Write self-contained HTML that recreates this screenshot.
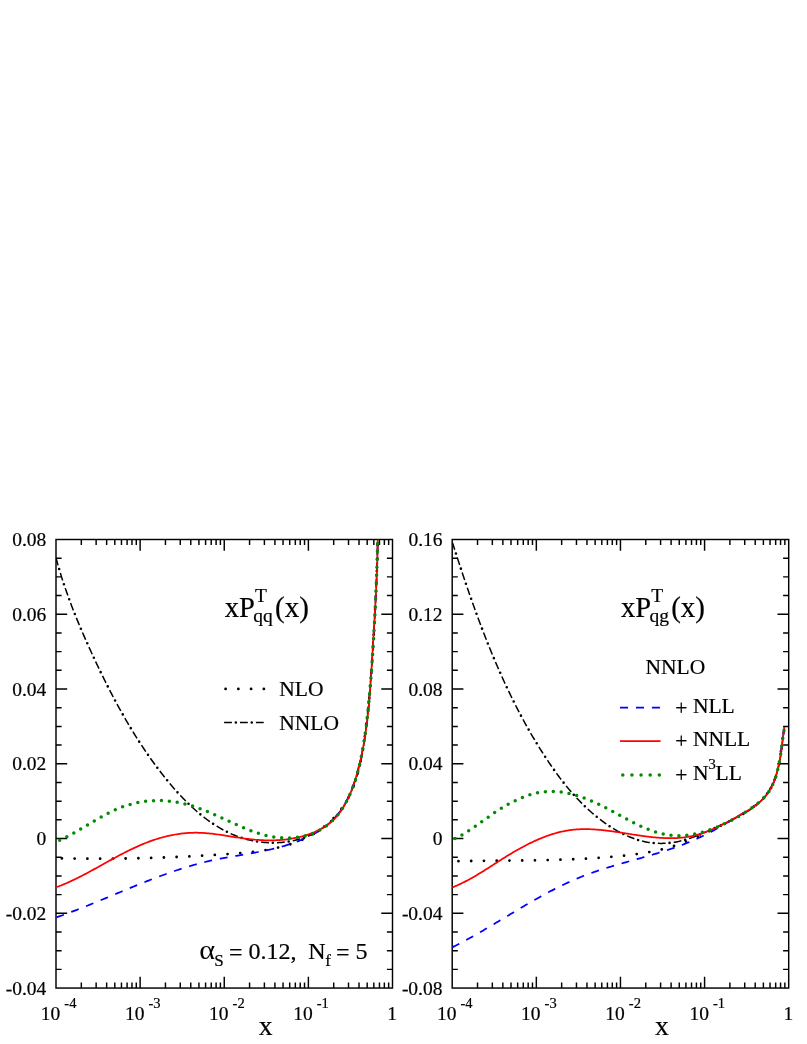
<!DOCTYPE html>
<html><head><meta charset="utf-8"><title>Timelike splitting functions</title>
<style>
html,body{margin:0;padding:0;background:#fff;}
body{width:807px;height:1044px;overflow:hidden;font-family:"Liberation Serif",serif;}
svg{display:block;will-change:transform;opacity:0.999;}
svg text{font-family:"Liberation Serif",serif;fill:#000;stroke:#000;stroke-width:0.2px;}
</style></head>
<body>
<svg width="807" height="1044" viewBox="0 0 807 1044">
<rect width="807" height="1044" fill="#fff"/>
<rect x="56.0" y="539.5" width="336.5" height="448.54999999999995" fill="none" stroke="#000" stroke-width="1.45"/>
<path d="M81.32,988.05 v-5.6 M81.32,539.5 v5.6 M96.14,988.05 v-5.6 M96.14,539.5 v5.6 M106.65,988.05 v-5.6 M106.65,539.5 v5.6 M114.80,988.05 v-5.6 M114.80,539.5 v5.6 M121.46,988.05 v-5.6 M121.46,539.5 v5.6 M127.09,988.05 v-5.6 M127.09,539.5 v5.6 M131.97,988.05 v-5.6 M131.97,539.5 v5.6 M136.28,988.05 v-5.6 M136.28,539.5 v5.6 M140.12,988.05 v-11.2 M140.12,539.5 v11.2 M165.45,988.05 v-5.6 M165.45,539.5 v5.6 M180.26,988.05 v-5.6 M180.26,539.5 v5.6 M190.77,988.05 v-5.6 M190.77,539.5 v5.6 M198.93,988.05 v-5.6 M198.93,539.5 v5.6 M205.59,988.05 v-5.6 M205.59,539.5 v5.6 M211.22,988.05 v-5.6 M211.22,539.5 v5.6 M216.10,988.05 v-5.6 M216.10,539.5 v5.6 M220.40,988.05 v-5.6 M220.40,539.5 v5.6 M224.25,988.05 v-11.2 M224.25,539.5 v11.2 M249.57,988.05 v-5.6 M249.57,539.5 v5.6 M264.39,988.05 v-5.6 M264.39,539.5 v5.6 M274.90,988.05 v-5.6 M274.90,539.5 v5.6 M283.05,988.05 v-5.6 M283.05,539.5 v5.6 M289.71,988.05 v-5.6 M289.71,539.5 v5.6 M295.34,988.05 v-5.6 M295.34,539.5 v5.6 M300.22,988.05 v-5.6 M300.22,539.5 v5.6 M304.53,988.05 v-5.6 M304.53,539.5 v5.6 M308.38,988.05 v-11.2 M308.38,539.5 v11.2 M333.70,988.05 v-5.6 M333.70,539.5 v5.6 M348.51,988.05 v-5.6 M348.51,539.5 v5.6 M359.02,988.05 v-5.6 M359.02,539.5 v5.6 M367.18,988.05 v-5.6 M367.18,539.5 v5.6 M373.84,988.05 v-5.6 M373.84,539.5 v5.6 M379.47,988.05 v-5.6 M379.47,539.5 v5.6 M384.35,988.05 v-5.6 M384.35,539.5 v5.6 M388.65,988.05 v-5.6 M388.65,539.5 v5.6 M56.0,558.19 h5.6 M392.5,558.19 h-5.6 M56.0,576.88 h5.6 M392.5,576.88 h-5.6 M56.0,595.57 h5.6 M392.5,595.57 h-5.6 M56.0,614.26 h11.2 M392.5,614.26 h-11.2 M56.0,632.95 h5.6 M392.5,632.95 h-5.6 M56.0,651.64 h5.6 M392.5,651.64 h-5.6 M56.0,670.33 h5.6 M392.5,670.33 h-5.6 M56.0,689.02 h11.2 M392.5,689.02 h-11.2 M56.0,707.71 h5.6 M392.5,707.71 h-5.6 M56.0,726.40 h5.6 M392.5,726.40 h-5.6 M56.0,745.09 h5.6 M392.5,745.09 h-5.6 M56.0,763.77 h11.2 M392.5,763.77 h-11.2 M56.0,782.46 h5.6 M392.5,782.46 h-5.6 M56.0,801.15 h5.6 M392.5,801.15 h-5.6 M56.0,819.84 h5.6 M392.5,819.84 h-5.6 M56.0,838.53 h11.2 M392.5,838.53 h-11.2 M56.0,857.22 h5.6 M392.5,857.22 h-5.6 M56.0,875.91 h5.6 M392.5,875.91 h-5.6 M56.0,894.60 h5.6 M392.5,894.60 h-5.6 M56.0,913.29 h11.2 M392.5,913.29 h-11.2 M56.0,931.98 h5.6 M392.5,931.98 h-5.6 M56.0,950.67 h5.6 M392.5,950.67 h-5.6 M56.0,969.36 h5.6 M392.5,969.36 h-5.6" stroke="#000" stroke-width="1.45" fill="none"/>
<text x="46.3" y="546.1" text-anchor="end" font-size="19.5">0.08</text>
<text x="46.3" y="620.9" text-anchor="end" font-size="19.5">0.06</text>
<text x="46.3" y="695.6" text-anchor="end" font-size="19.5">0.04</text>
<text x="46.3" y="770.4" text-anchor="end" font-size="19.5">0.02</text>
<text x="46.3" y="845.1" text-anchor="end" font-size="19.5">0</text>
<text x="46.3" y="919.9" text-anchor="end" font-size="19.5">-0.02</text>
<text x="46.3" y="994.6" text-anchor="end" font-size="19.5">-0.04</text>
<text x="40.8" y="1020.2" font-size="19.5">10</text>
<text x="64.3" y="1008.0" font-size="14.5">-4</text>
<text x="124.9" y="1020.2" font-size="19.5">10</text>
<text x="148.4" y="1008.0" font-size="14.5">-3</text>
<text x="209.1" y="1020.2" font-size="19.5">10</text>
<text x="232.6" y="1008.0" font-size="14.5">-2</text>
<text x="293.2" y="1020.2" font-size="19.5">10</text>
<text x="316.7" y="1008.0" font-size="14.5">-1</text>
<text x="392.2" y="1020.2" text-anchor="middle" font-size="19.5">1</text>
<text x="265.6" y="1034.6" text-anchor="middle" font-size="27.5">x</text>
<clipPath id="cl"><rect x="56.0" y="539.5" width="336.5" height="448.54999999999995"/></clipPath>
<rect x="452.2" y="539.5" width="336.50000000000006" height="448.54999999999995" fill="none" stroke="#000" stroke-width="1.45"/>
<path d="M477.52,988.05 v-5.6 M477.52,539.5 v5.6 M492.34,988.05 v-5.6 M492.34,539.5 v5.6 M502.85,988.05 v-5.6 M502.85,539.5 v5.6 M511.00,988.05 v-5.6 M511.00,539.5 v5.6 M517.66,988.05 v-5.6 M517.66,539.5 v5.6 M523.29,988.05 v-5.6 M523.29,539.5 v5.6 M528.17,988.05 v-5.6 M528.17,539.5 v5.6 M532.48,988.05 v-5.6 M532.48,539.5 v5.6 M536.33,988.05 v-11.2 M536.33,539.5 v11.2 M561.65,988.05 v-5.6 M561.65,539.5 v5.6 M576.46,988.05 v-5.6 M576.46,539.5 v5.6 M586.97,988.05 v-5.6 M586.97,539.5 v5.6 M595.13,988.05 v-5.6 M595.13,539.5 v5.6 M601.79,988.05 v-5.6 M601.79,539.5 v5.6 M607.42,988.05 v-5.6 M607.42,539.5 v5.6 M612.30,988.05 v-5.6 M612.30,539.5 v5.6 M616.60,988.05 v-5.6 M616.60,539.5 v5.6 M620.45,988.05 v-11.2 M620.45,539.5 v11.2 M645.77,988.05 v-5.6 M645.77,539.5 v5.6 M660.59,988.05 v-5.6 M660.59,539.5 v5.6 M671.10,988.05 v-5.6 M671.10,539.5 v5.6 M679.25,988.05 v-5.6 M679.25,539.5 v5.6 M685.91,988.05 v-5.6 M685.91,539.5 v5.6 M691.54,988.05 v-5.6 M691.54,539.5 v5.6 M696.42,988.05 v-5.6 M696.42,539.5 v5.6 M700.73,988.05 v-5.6 M700.73,539.5 v5.6 M704.58,988.05 v-11.2 M704.58,539.5 v11.2 M729.90,988.05 v-5.6 M729.90,539.5 v5.6 M744.71,988.05 v-5.6 M744.71,539.5 v5.6 M755.22,988.05 v-5.6 M755.22,539.5 v5.6 M763.38,988.05 v-5.6 M763.38,539.5 v5.6 M770.04,988.05 v-5.6 M770.04,539.5 v5.6 M775.67,988.05 v-5.6 M775.67,539.5 v5.6 M780.55,988.05 v-5.6 M780.55,539.5 v5.6 M784.85,988.05 v-5.6 M784.85,539.5 v5.6 M452.2,558.19 h5.6 M788.7,558.19 h-5.6 M452.2,576.88 h5.6 M788.7,576.88 h-5.6 M452.2,595.57 h5.6 M788.7,595.57 h-5.6 M452.2,614.26 h11.2 M788.7,614.26 h-11.2 M452.2,632.95 h5.6 M788.7,632.95 h-5.6 M452.2,651.64 h5.6 M788.7,651.64 h-5.6 M452.2,670.33 h5.6 M788.7,670.33 h-5.6 M452.2,689.02 h11.2 M788.7,689.02 h-11.2 M452.2,707.71 h5.6 M788.7,707.71 h-5.6 M452.2,726.40 h5.6 M788.7,726.40 h-5.6 M452.2,745.09 h5.6 M788.7,745.09 h-5.6 M452.2,763.77 h11.2 M788.7,763.77 h-11.2 M452.2,782.46 h5.6 M788.7,782.46 h-5.6 M452.2,801.15 h5.6 M788.7,801.15 h-5.6 M452.2,819.84 h5.6 M788.7,819.84 h-5.6 M452.2,838.53 h11.2 M788.7,838.53 h-11.2 M452.2,857.22 h5.6 M788.7,857.22 h-5.6 M452.2,875.91 h5.6 M788.7,875.91 h-5.6 M452.2,894.60 h5.6 M788.7,894.60 h-5.6 M452.2,913.29 h11.2 M788.7,913.29 h-11.2 M452.2,931.98 h5.6 M788.7,931.98 h-5.6 M452.2,950.67 h5.6 M788.7,950.67 h-5.6 M452.2,969.36 h5.6 M788.7,969.36 h-5.6" stroke="#000" stroke-width="1.45" fill="none"/>
<text x="442.5" y="546.1" text-anchor="end" font-size="19.5">0.16</text>
<text x="442.5" y="620.9" text-anchor="end" font-size="19.5">0.12</text>
<text x="442.5" y="695.6" text-anchor="end" font-size="19.5">0.08</text>
<text x="442.5" y="770.4" text-anchor="end" font-size="19.5">0.04</text>
<text x="442.5" y="845.1" text-anchor="end" font-size="19.5">0</text>
<text x="442.5" y="919.9" text-anchor="end" font-size="19.5">-0.04</text>
<text x="442.5" y="994.6" text-anchor="end" font-size="19.5">-0.08</text>
<text x="437.0" y="1020.2" font-size="19.5">10</text>
<text x="460.5" y="1008.0" font-size="14.5">-4</text>
<text x="521.1" y="1020.2" font-size="19.5">10</text>
<text x="544.6" y="1008.0" font-size="14.5">-3</text>
<text x="605.2" y="1020.2" font-size="19.5">10</text>
<text x="628.8" y="1008.0" font-size="14.5">-2</text>
<text x="689.4" y="1020.2" font-size="19.5">10</text>
<text x="712.9" y="1008.0" font-size="14.5">-1</text>
<text x="788.4" y="1020.2" text-anchor="middle" font-size="19.5">1</text>
<text x="661.8" y="1034.6" text-anchor="middle" font-size="27.5">x</text>
<clipPath id="cr"><rect x="452.2" y="539.5" width="336.50000000000006" height="448.54999999999995"/></clipPath>
<g clip-path="url(#cl)" fill="none">
<path d="M55.80,858.31 L57.32,858.34 L58.83,858.36 L60.34,858.39 L61.85,858.41 L63.36,858.44 L64.87,858.46 L66.37,858.48 L67.87,858.51 L69.37,858.53 L70.87,858.55 L72.37,858.56 L73.86,858.58 L75.36,858.60 L76.85,858.61 L78.34,858.62 L79.82,858.64 L81.31,858.65 L82.79,858.66 L84.28,858.67 L85.76,858.68 L87.24,858.69 L88.71,858.69 L90.19,858.70 L91.66,858.70 L93.14,858.70 L94.61,858.71 L96.08,858.71 L97.55,858.71 L99.02,858.71 L100.48,858.70 L101.95,858.70 L103.41,858.70 L104.88,858.69 L106.34,858.68 L107.80,858.68 L109.26,858.67 L110.72,858.66 L112.18,858.65 L113.63,858.63 L115.09,858.62 L116.54,858.61 L118.00,858.59 L119.45,858.57 L120.91,858.56 L122.36,858.54 L123.81,858.52 L125.26,858.50 L126.71,858.47 L128.16,858.45 L129.61,858.43 L131.05,858.40 L132.50,858.37 L133.95,858.35 L135.40,858.32 L136.84,858.29 L138.29,858.25 L139.73,858.22 L141.18,858.19 L142.62,858.15 L144.07,858.12 L145.51,858.08 L146.96,858.04 L148.40,858.00 L149.84,857.96 L151.29,857.92 L152.73,857.88 L154.17,857.83 L155.62,857.79 L157.06,857.74 L158.51,857.69 L159.95,857.65 L161.39,857.60 L162.84,857.54 L164.28,857.49 L165.73,857.44 L167.17,857.38 L168.62,857.33 L170.06,857.27 L171.51,857.21 L172.95,857.15 L174.40,857.09 L175.85,857.03 L177.30,856.97 L178.74,856.90 L180.19,856.84 L181.64,856.77 L183.09,856.70 L184.54,856.63 L186.00,856.56 L187.45,856.49 L188.90,856.42 L190.35,856.35 L191.81,856.27 L193.26,856.19 L194.72,856.12 L196.18,856.04 L197.64,855.96 L199.10,855.88 L200.56,855.79 L202.02,855.71 L203.48,855.62 L204.94,855.54 L206.41,855.45 L207.87,855.36 L209.34,855.27 L210.81,855.18 L212.28,855.09 L213.75,854.99 L215.22,854.90 L216.70,854.80 L218.17,854.71 L219.65,854.61 L221.13,854.51 L222.61,854.41 L224.09,854.30 L225.57,854.20 L227.05,854.09 L228.54,853.99 L230.03,853.88 L231.52,853.77 L233.01,853.66 L234.50,853.54 L235.99,853.43 L237.48,853.30 L238.97,853.18 L240.47,853.05 L241.96,852.92 L243.45,852.79 L244.94,852.64 L246.44,852.50 L247.93,852.35 L249.42,852.19 L250.91,852.03 L252.39,851.86 L253.88,851.69 L255.36,851.50 L256.85,851.32 L258.33,851.12 L259.81,850.92 L261.28,850.70 L262.76,850.48 L264.23,850.26 L265.69,850.02 L267.16,849.77 L268.62,849.52 L270.08,849.25 L271.53,848.98 L272.98,848.69 L274.43,848.39 L275.87,848.09 L277.31,847.77 L278.75,847.44 L280.17,847.09 L281.60,846.74 L283.02,846.37 L284.43,845.99 L285.84,845.60 L287.24,845.19 L288.64,844.77 L290.03,844.34 L291.41,843.89 L292.79,843.43 L294.16,842.95 L295.53,842.46 L296.89,841.95 L298.24,841.43 L299.58,840.89 L300.92,840.33 L302.25,839.76 L303.57,839.17 L304.88,838.56 L306.19,837.94 L307.48,837.29 L308.77,836.63 L310.05,835.95 L311.32,835.26 L312.58,834.54 L313.83,833.80 L315.08,833.05 L316.31,832.28 L317.53,831.49 L318.74,830.68 L319.93,829.85 L321.12,829.01 L322.29,828.14 L323.45,827.26 L324.59,826.37 L325.73,825.46 L326.84,824.53 L327.94,823.58 L329.03,822.62 L330.10,821.64 L331.16,820.65 L332.19,819.64 L333.22,818.62 L334.22,817.58 L335.20,816.53 L336.17,815.46 L337.12,814.38 L338.05,813.28 L338.96,812.17 L339.84,811.04 L340.71,809.90 L341.57,808.75 L342.40,807.59 L343.21,806.41 L344.00,805.22 L344.78,804.02 L345.53,802.80 L346.27,801.57 L346.98,800.33 L347.68,799.08 L348.36,797.82 L349.02,796.54 L349.66,795.26 L350.28,793.96 L350.88,792.65 L351.47,791.34 L352.03,790.01 L352.58,788.67 L353.12,787.33 L353.63,785.97 L354.13,784.61 L354.62,783.23 L355.09,781.86 L355.54,780.47 L355.99,779.07 L356.41,777.67 L356.83,776.26 L357.23,774.85 L357.62,773.43 L358.00,772.01 L358.36,770.58 L358.72,769.14 L359.07,767.70 L359.40,766.26 L359.73,764.81 L360.05,763.36 L360.35,761.91 L360.65,760.45 L360.95,758.99 L361.23,757.53 L361.51,756.07 L361.78,754.61 L362.05,753.14 L362.31,751.68 L362.57,750.21 L362.82,748.74 L363.07,747.28 L363.31,745.81 L363.55,744.35 L363.79,742.88 L364.02,741.42 L364.24,739.96 L364.47,738.49 L364.69,737.03 L364.90,735.57 L365.12,734.10 L365.32,732.64 L365.53,731.18 L365.73,729.71 L365.93,728.25 L366.12,726.79 L366.31,725.33 L366.50,723.87 L366.69,722.40 L366.87,720.94 L367.05,719.48 L367.22,718.02 L367.39,716.56 L367.56,715.10 L367.73,713.64 L367.89,712.18 L368.05,710.72 L368.21,709.26 L368.36,707.80 L368.51,706.34 L368.66,704.88 L368.81,703.42 L368.95,701.96 L369.09,700.50 L369.23,699.04 L369.37,697.58 L369.50,696.12 L369.63,694.66 L369.76,693.20 L369.89,691.74 L370.02,690.28 L370.14,688.82 L370.26,687.37 L370.38,685.91 L370.50,684.45 L370.61,682.99 L370.73,681.53 L370.84,680.07 L370.95,678.61 L371.06,677.16 L371.16,675.70 L371.27,674.24 L371.37,672.78 L371.47,671.32 L371.57,669.87 L371.67,668.41 L371.77,666.95 L371.87,665.49 L371.96,664.03 L372.06,662.58 L372.15,661.12 L372.24,659.66 L372.34,658.20 L372.43,656.74 L372.51,655.29 L372.60,653.83 L372.69,652.37 L372.78,650.91 L372.87,649.45 L372.95,647.99 L373.04,646.54 L373.12,645.08 L373.21,643.62 L373.29,642.16 L373.37,640.70 L373.46,639.24 L373.54,637.78 L373.62,636.33 L373.70,634.87 L373.79,633.41 L373.87,631.95 L373.95,630.49 L374.03,629.03 L374.11,627.57 L374.19,626.11 L374.27,624.65 L374.35,623.19 L374.43,621.73 L374.51,620.27 L374.59,618.81 L374.67,617.35 L374.75,615.89 L374.82,614.43 L374.90,612.97 L374.98,611.51 L375.05,610.05 L375.13,608.59 L375.20,607.13 L375.28,605.67 L375.35,604.21 L375.42,602.74 L375.50,601.28 L375.57,599.82 L375.64,598.36 L375.71,596.90 L375.78,595.43 L375.85,593.97 L375.92,592.51 L375.99,591.05 L376.05,589.58 L376.12,588.12 L376.18,586.65 L376.25,585.19 L376.31,583.73 L376.38,582.26 L376.44,580.80 L376.50,579.33 L376.56,577.87 L376.62,576.40 L376.68,574.94 L376.74,573.47 L376.79,572.00 L376.85,570.54 L376.90,569.07 L376.96,567.60 L377.01,566.14 L377.06,564.67 L377.12,563.20 L377.17,561.73 L377.21,560.26 L377.26,558.80 L377.31,557.33 L377.36,555.86 L377.40,554.39 L377.44,552.92 L377.49,551.45 L377.53,549.98 L377.57,548.51 L377.61,547.03 L377.64,545.56 L377.68,544.09 L377.72,542.62 L377.75,541.15 L377.78,539.67 L377.81,538.20 L377.84,536.73 L377.87,535.25 L377.90,533.78 L377.93,532.30 L377.95,530.83 L377.98,529.35 L378.00,527.88" stroke="#000" stroke-width="2.8" stroke-linecap="round" stroke-dasharray="0 12.75" stroke-dashoffset="-6.1"/>
<path d="M55.96,557.71 L56.44,559.51 L56.93,561.30 L57.43,563.10 L57.93,564.89 L58.45,566.68 L58.97,568.47 L59.50,570.26 L60.04,572.05 L60.58,573.83 L61.14,575.61 L61.70,577.40 L62.26,579.18 L62.84,580.95 L63.42,582.73 L64.01,584.51 L64.60,586.28 L65.21,588.05 L65.82,589.82 L66.43,591.59 L67.05,593.35 L67.68,595.12 L68.32,596.88 L68.96,598.64 L69.61,600.40 L70.26,602.16 L70.92,603.91 L71.58,605.66 L72.25,607.42 L72.93,609.17 L73.61,610.91 L74.29,612.66 L74.99,614.40 L75.68,616.14 L76.38,617.88 L77.09,619.62 L77.80,621.36 L78.52,623.09 L79.24,624.82 L79.96,626.55 L80.69,628.28 L81.42,630.01 L82.16,631.73 L82.90,633.45 L83.65,635.17 L84.40,636.89 L85.15,638.60 L85.90,640.32 L86.66,642.03 L87.43,643.74 L88.19,645.44 L88.96,647.15 L89.74,648.85 L90.51,650.55 L91.29,652.25 L92.07,653.94 L92.85,655.64 L93.64,657.33 L94.43,659.02 L95.22,660.70 L96.01,662.39 L96.81,664.07 L97.60,665.75 L98.41,667.43 L99.21,669.10 L100.01,670.77 L100.82,672.44 L101.63,674.11 L102.45,675.78 L103.27,677.44 L104.09,679.10 L104.91,680.76 L105.74,682.41 L106.57,684.07 L107.40,685.72 L108.24,687.36 L109.08,689.01 L109.92,690.65 L110.77,692.29 L111.62,693.93 L112.48,695.57 L113.34,697.20 L114.20,698.83 L115.07,700.46 L115.94,702.08 L116.81,703.70 L117.69,705.32 L118.58,706.94 L119.47,708.55 L120.36,710.16 L121.26,711.77 L122.16,713.38 L123.06,714.98 L123.98,716.58 L124.89,718.18 L125.81,719.77 L126.74,721.37 L127.67,722.96 L128.61,724.54 L129.55,726.13 L130.50,727.71 L131.45,729.28 L132.41,730.86 L133.37,732.43 L134.34,734.00 L135.31,735.57 L136.29,737.13 L137.28,738.69 L138.27,740.25 L139.27,741.80 L140.28,743.35 L141.29,744.90 L142.31,746.45 L143.34,747.99 L144.37,749.53 L145.41,751.07 L146.45,752.60 L147.51,754.13 L148.57,755.66 L149.64,757.18 L150.71,758.70 L151.80,760.22 L152.89,761.73 L153.99,763.25 L155.09,764.75 L156.21,766.26 L157.33,767.76 L158.46,769.26 L159.60,770.75 L160.75,772.25 L161.91,773.74 L163.08,775.22 L164.25,776.70 L165.43,778.18 L166.63,779.66 L167.83,781.13 L169.04,782.59 L170.26,784.05 L171.49,785.51 L172.73,786.95 L173.98,788.39 L175.24,789.82 L176.51,791.25 L177.78,792.66 L179.07,794.07 L180.37,795.46 L181.67,796.85 L182.99,798.23 L184.31,799.59 L185.65,800.94 L186.99,802.28 L188.35,803.61 L189.72,804.93 L191.09,806.23 L192.48,807.51 L193.88,808.79 L195.28,810.04 L196.70,811.28 L198.13,812.51 L199.57,813.72 L201.02,814.91 L202.48,816.08 L203.95,817.23 L205.43,818.37 L206.92,819.49 L208.42,820.58 L209.94,821.66 L211.46,822.72 L213.00,823.75 L214.54,824.77 L216.10,825.76 L217.67,826.72 L219.25,827.67 L220.84,828.59 L222.45,829.49 L224.06,830.36 L225.69,831.21 L227.33,832.03 L228.98,832.82 L230.64,833.59 L232.31,834.33 L234.00,835.04 L235.70,835.72 L237.41,836.38 L239.13,837.01 L240.86,837.60 L242.61,838.17 L244.36,838.70 L246.13,839.21 L247.92,839.68 L249.71,840.12 L251.52,840.52 L253.34,840.90 L255.16,841.24 L257.00,841.54 L258.85,841.82 L260.70,842.06 L262.56,842.26 L264.43,842.44 L266.30,842.57 L268.18,842.68 L270.05,842.75 L271.93,842.78 L273.81,842.78 L275.69,842.75 L277.57,842.68 L279.44,842.58 L281.32,842.44 L283.19,842.26 L285.05,842.06 L286.91,841.81 L288.76,841.53 L290.60,841.21 L292.43,840.86 L294.26,840.47 L296.07,840.04 L297.87,839.58 L299.66,839.08 L301.44,838.55 L303.20,837.97 L304.94,837.37 L306.67,836.72 L308.38,836.03 L310.07,835.31 L311.74,834.55 L313.39,833.76 L315.02,832.92 L316.63,832.05 L318.21,831.14 L319.77,830.19 L321.31,829.20 L322.81,828.17 L324.29,827.11 L325.75,826.00 L327.17,824.86 L328.56,823.68 L329.93,822.46 L331.26,821.20 L332.57,819.91 L333.84,818.59 L335.09,817.24 L336.30,815.85 L337.49,814.43 L338.65,812.99 L339.77,811.52 L340.87,810.02 L341.94,808.50 L342.97,806.95 L343.98,805.38 L344.96,803.79 L345.90,802.17 L346.82,800.54 L347.71,798.89 L348.56,797.23 L349.39,795.55 L350.20,793.85 L350.97,792.14 L351.72,790.42 L352.44,788.69 L353.14,786.94 L353.81,785.19 L354.46,783.44 L355.09,781.67 L355.69,779.90 L356.27,778.13 L356.83,776.35 L357.37,774.57 L357.89,772.79 L358.39,771.00 L358.87,769.21 L359.33,767.41 L359.78,765.61 L360.20,763.81 L360.61,762.00 L361.01,760.19 L361.39,758.38 L361.75,756.57 L362.10,754.75 L362.44,752.93 L362.77,751.10 L363.08,749.28 L363.38,747.45 L363.67,745.61 L363.94,743.78 L364.21,741.94 L364.47,740.10 L364.72,738.26 L364.96,736.41 L365.20,734.57 L365.43,732.72 L365.65,730.87 L365.86,729.02 L366.07,727.16 L366.28,725.31 L366.48,723.45 L366.68,721.59 L366.88,719.73 L367.07,717.87 L367.26,716.00 L367.45,714.14 L367.64,712.27 L367.83,710.41 L368.02,708.54 L368.20,706.67 L368.38,704.80 L368.57,702.93 L368.74,701.06 L368.92,699.19 L369.10,697.31 L369.27,695.44 L369.44,693.57 L369.62,691.70 L369.78,689.82 L369.95,687.95 L370.12,686.07 L370.28,684.20 L370.44,682.33 L370.60,680.45 L370.76,678.58 L370.91,676.71 L371.07,674.83 L371.22,672.96 L371.37,671.09 L371.52,669.22 L371.66,667.35 L371.81,665.48 L371.95,663.61 L372.09,661.75 L372.22,659.88 L372.36,658.02 L372.49,656.15 L372.62,654.29 L372.75,652.43 L372.88,650.57 L373.00,648.71 L373.12,646.85 L373.24,645.00 L373.36,643.14 L373.48,641.29 L373.59,639.44 L373.70,637.58 L373.81,635.73 L373.92,633.88 L374.03,632.03 L374.13,630.18 L374.24,628.34 L374.34,626.49 L374.44,624.64 L374.54,622.79 L374.63,620.95 L374.73,619.10 L374.82,617.25 L374.91,615.41 L375.00,613.56 L375.09,611.72 L375.18,609.87 L375.26,608.03 L375.35,606.18 L375.43,604.34 L375.51,602.49 L375.59,600.64 L375.67,598.80 L375.75,596.95 L375.83,595.10 L375.91,593.25 L375.98,591.40 L376.05,589.55 L376.13,587.70 L376.20,585.85 L376.27,584.00 L376.34,582.15 L376.41,580.30 L376.48,578.44 L376.54,576.59 L376.61,574.73 L376.68,572.87 L376.74,571.01 L376.81,569.15 L376.87,567.29 L376.93,565.42 L377.00,563.56 L377.06,561.69 L377.12,559.82 L377.18,557.95 L377.24,556.08 L377.30,554.21 L377.36,552.33 L377.42,550.46 L377.48,548.58 L377.54,546.69 L377.60,544.81 L377.66,542.93 L377.72,541.04 L377.78,539.15 L377.83,537.25 L377.89,535.36 L377.95,533.46 L378.01,531.56 L378.07,529.66 L378.12,527.75" stroke="#000" stroke-width="1.5" stroke-dasharray="7.8 8.1" fill="none"/><path d="M55.96,557.71 L56.44,559.51 L56.93,561.30 L57.43,563.10 L57.93,564.89 L58.45,566.68 L58.97,568.47 L59.50,570.26 L60.04,572.05 L60.58,573.83 L61.14,575.61 L61.70,577.40 L62.26,579.18 L62.84,580.95 L63.42,582.73 L64.01,584.51 L64.60,586.28 L65.21,588.05 L65.82,589.82 L66.43,591.59 L67.05,593.35 L67.68,595.12 L68.32,596.88 L68.96,598.64 L69.61,600.40 L70.26,602.16 L70.92,603.91 L71.58,605.66 L72.25,607.42 L72.93,609.17 L73.61,610.91 L74.29,612.66 L74.99,614.40 L75.68,616.14 L76.38,617.88 L77.09,619.62 L77.80,621.36 L78.52,623.09 L79.24,624.82 L79.96,626.55 L80.69,628.28 L81.42,630.01 L82.16,631.73 L82.90,633.45 L83.65,635.17 L84.40,636.89 L85.15,638.60 L85.90,640.32 L86.66,642.03 L87.43,643.74 L88.19,645.44 L88.96,647.15 L89.74,648.85 L90.51,650.55 L91.29,652.25 L92.07,653.94 L92.85,655.64 L93.64,657.33 L94.43,659.02 L95.22,660.70 L96.01,662.39 L96.81,664.07 L97.60,665.75 L98.41,667.43 L99.21,669.10 L100.01,670.77 L100.82,672.44 L101.63,674.11 L102.45,675.78 L103.27,677.44 L104.09,679.10 L104.91,680.76 L105.74,682.41 L106.57,684.07 L107.40,685.72 L108.24,687.36 L109.08,689.01 L109.92,690.65 L110.77,692.29 L111.62,693.93 L112.48,695.57 L113.34,697.20 L114.20,698.83 L115.07,700.46 L115.94,702.08 L116.81,703.70 L117.69,705.32 L118.58,706.94 L119.47,708.55 L120.36,710.16 L121.26,711.77 L122.16,713.38 L123.06,714.98 L123.98,716.58 L124.89,718.18 L125.81,719.77 L126.74,721.37 L127.67,722.96 L128.61,724.54 L129.55,726.13 L130.50,727.71 L131.45,729.28 L132.41,730.86 L133.37,732.43 L134.34,734.00 L135.31,735.57 L136.29,737.13 L137.28,738.69 L138.27,740.25 L139.27,741.80 L140.28,743.35 L141.29,744.90 L142.31,746.45 L143.34,747.99 L144.37,749.53 L145.41,751.07 L146.45,752.60 L147.51,754.13 L148.57,755.66 L149.64,757.18 L150.71,758.70 L151.80,760.22 L152.89,761.73 L153.99,763.25 L155.09,764.75 L156.21,766.26 L157.33,767.76 L158.46,769.26 L159.60,770.75 L160.75,772.25 L161.91,773.74 L163.08,775.22 L164.25,776.70 L165.43,778.18 L166.63,779.66 L167.83,781.13 L169.04,782.59 L170.26,784.05 L171.49,785.51 L172.73,786.95 L173.98,788.39 L175.24,789.82 L176.51,791.25 L177.78,792.66 L179.07,794.07 L180.37,795.46 L181.67,796.85 L182.99,798.23 L184.31,799.59 L185.65,800.94 L186.99,802.28 L188.35,803.61 L189.72,804.93 L191.09,806.23 L192.48,807.51 L193.88,808.79 L195.28,810.04 L196.70,811.28 L198.13,812.51 L199.57,813.72 L201.02,814.91 L202.48,816.08 L203.95,817.23 L205.43,818.37 L206.92,819.49 L208.42,820.58 L209.94,821.66 L211.46,822.72 L213.00,823.75 L214.54,824.77 L216.10,825.76 L217.67,826.72 L219.25,827.67 L220.84,828.59 L222.45,829.49 L224.06,830.36 L225.69,831.21 L227.33,832.03 L228.98,832.82 L230.64,833.59 L232.31,834.33 L234.00,835.04 L235.70,835.72 L237.41,836.38 L239.13,837.01 L240.86,837.60 L242.61,838.17 L244.36,838.70 L246.13,839.21 L247.92,839.68 L249.71,840.12 L251.52,840.52 L253.34,840.90 L255.16,841.24 L257.00,841.54 L258.85,841.82 L260.70,842.06 L262.56,842.26 L264.43,842.44 L266.30,842.57 L268.18,842.68 L270.05,842.75 L271.93,842.78 L273.81,842.78 L275.69,842.75 L277.57,842.68 L279.44,842.58 L281.32,842.44 L283.19,842.26 L285.05,842.06 L286.91,841.81 L288.76,841.53 L290.60,841.21 L292.43,840.86 L294.26,840.47 L296.07,840.04 L297.87,839.58 L299.66,839.08 L301.44,838.55 L303.20,837.97 L304.94,837.37 L306.67,836.72 L308.38,836.03 L310.07,835.31 L311.74,834.55 L313.39,833.76 L315.02,832.92 L316.63,832.05 L318.21,831.14 L319.77,830.19 L321.31,829.20 L322.81,828.17 L324.29,827.11 L325.75,826.00 L327.17,824.86 L328.56,823.68 L329.93,822.46 L331.26,821.20 L332.57,819.91 L333.84,818.59 L335.09,817.24 L336.30,815.85 L337.49,814.43 L338.65,812.99 L339.77,811.52 L340.87,810.02 L341.94,808.50 L342.97,806.95 L343.98,805.38 L344.96,803.79 L345.90,802.17 L346.82,800.54 L347.71,798.89 L348.56,797.23 L349.39,795.55 L350.20,793.85 L350.97,792.14 L351.72,790.42 L352.44,788.69 L353.14,786.94 L353.81,785.19 L354.46,783.44 L355.09,781.67 L355.69,779.90 L356.27,778.13 L356.83,776.35 L357.37,774.57 L357.89,772.79 L358.39,771.00 L358.87,769.21 L359.33,767.41 L359.78,765.61 L360.20,763.81 L360.61,762.00 L361.01,760.19 L361.39,758.38 L361.75,756.57 L362.10,754.75 L362.44,752.93 L362.77,751.10 L363.08,749.28 L363.38,747.45 L363.67,745.61 L363.94,743.78 L364.21,741.94 L364.47,740.10 L364.72,738.26 L364.96,736.41 L365.20,734.57 L365.43,732.72 L365.65,730.87 L365.86,729.02 L366.07,727.16 L366.28,725.31 L366.48,723.45 L366.68,721.59 L366.88,719.73 L367.07,717.87 L367.26,716.00 L367.45,714.14 L367.64,712.27 L367.83,710.41 L368.02,708.54 L368.20,706.67 L368.38,704.80 L368.57,702.93 L368.74,701.06 L368.92,699.19 L369.10,697.31 L369.27,695.44 L369.44,693.57 L369.62,691.70 L369.78,689.82 L369.95,687.95 L370.12,686.07 L370.28,684.20 L370.44,682.33 L370.60,680.45 L370.76,678.58 L370.91,676.71 L371.07,674.83 L371.22,672.96 L371.37,671.09 L371.52,669.22 L371.66,667.35 L371.81,665.48 L371.95,663.61 L372.09,661.75 L372.22,659.88 L372.36,658.02 L372.49,656.15 L372.62,654.29 L372.75,652.43 L372.88,650.57 L373.00,648.71 L373.12,646.85 L373.24,645.00 L373.36,643.14 L373.48,641.29 L373.59,639.44 L373.70,637.58 L373.81,635.73 L373.92,633.88 L374.03,632.03 L374.13,630.18 L374.24,628.34 L374.34,626.49 L374.44,624.64 L374.54,622.79 L374.63,620.95 L374.73,619.10 L374.82,617.25 L374.91,615.41 L375.00,613.56 L375.09,611.72 L375.18,609.87 L375.26,608.03 L375.35,606.18 L375.43,604.34 L375.51,602.49 L375.59,600.64 L375.67,598.80 L375.75,596.95 L375.83,595.10 L375.91,593.25 L375.98,591.40 L376.05,589.55 L376.13,587.70 L376.20,585.85 L376.27,584.00 L376.34,582.15 L376.41,580.30 L376.48,578.44 L376.54,576.59 L376.61,574.73 L376.68,572.87 L376.74,571.01 L376.81,569.15 L376.87,567.29 L376.93,565.42 L377.00,563.56 L377.06,561.69 L377.12,559.82 L377.18,557.95 L377.24,556.08 L377.30,554.21 L377.36,552.33 L377.42,550.46 L377.48,548.58 L377.54,546.69 L377.60,544.81 L377.66,542.93 L377.72,541.04 L377.78,539.15 L377.83,537.25 L377.89,535.36 L377.95,533.46 L378.01,531.56 L378.07,529.66 L378.12,527.75" stroke="#000" stroke-width="2.6" stroke-linecap="round" stroke-dasharray="0 15.9" stroke-dashoffset="-11.75" fill="none"/>
<path d="M56.43,917.37 L57.79,916.90 L59.15,916.42 L60.51,915.94 L61.88,915.45 L63.24,914.96 L64.61,914.46 L65.97,913.96 L67.34,913.46 L68.70,912.95 L70.07,912.43 L71.44,911.92 L72.81,911.40 L74.18,910.87 L75.55,910.34 L76.92,909.81 L78.29,909.28 L79.66,908.74 L81.04,908.20 L82.41,907.66 L83.79,907.11 L85.16,906.56 L86.54,906.01 L87.91,905.45 L89.29,904.90 L90.67,904.34 L92.05,903.78 L93.43,903.21 L94.81,902.65 L96.19,902.08 L97.57,901.51 L98.95,900.94 L100.33,900.37 L101.72,899.80 L103.10,899.22 L104.48,898.65 L105.87,898.07 L107.26,897.49 L108.64,896.91 L110.03,896.34 L111.42,895.76 L112.81,895.18 L114.20,894.60 L115.59,894.02 L116.98,893.43 L118.37,892.85 L119.76,892.27 L121.15,891.69 L122.55,891.11 L123.94,890.54 L125.34,889.96 L126.73,889.38 L128.13,888.80 L129.53,888.23 L130.92,887.65 L132.32,887.08 L133.72,886.50 L135.12,885.93 L136.52,885.36 L137.92,884.80 L139.32,884.23 L140.73,883.67 L142.13,883.10 L143.53,882.54 L144.94,881.99 L146.34,881.43 L147.75,880.88 L149.16,880.33 L150.56,879.78 L151.97,879.23 L153.38,878.69 L154.79,878.15 L156.20,877.62 L157.61,877.08 L159.02,876.55 L160.44,876.03 L161.85,875.51 L163.26,874.99 L164.68,874.47 L166.09,873.96 L167.51,873.45 L168.93,872.95 L170.34,872.45 L171.76,871.96 L173.18,871.47 L174.60,870.99 L176.02,870.51 L177.44,870.03 L178.86,869.56 L180.28,869.10 L181.71,868.64 L183.13,868.18 L184.55,867.73 L185.98,867.29 L187.41,866.85 L188.83,866.42 L190.26,865.99 L191.69,865.57 L193.12,865.16 L194.55,864.75 L195.98,864.35 L197.41,863.96 L198.84,863.57 L200.27,863.19 L201.70,862.81 L203.14,862.44 L204.57,862.08 L206.01,861.73 L207.44,861.38 L208.88,861.05 L210.31,860.71 L211.75,860.39 L213.19,860.08 L214.63,859.77 L216.07,859.47 L217.51,859.17 L218.95,858.88 L220.40,858.60 L221.84,858.32 L223.28,858.05 L224.73,857.79 L226.17,857.52 L227.62,857.26 L229.06,857.01 L230.51,856.76 L231.96,856.51 L233.41,856.26 L234.86,856.01 L236.31,855.77 L237.76,855.53 L239.21,855.28 L240.66,855.04 L242.12,854.80 L243.57,854.55 L245.02,854.31 L246.48,854.06 L247.93,853.81 L249.39,853.56 L250.85,853.31 L252.31,853.05 L253.77,852.79 L255.23,852.53 L256.69,852.26 L258.15,851.99 L259.61,851.71 L261.07,851.43 L262.53,851.14 L264.00,850.84 L265.46,850.54 L266.93,850.23 L268.40,849.91 L269.86,849.58 L271.33,849.25 L272.80,848.91 L274.27,848.55 L275.74,848.19 L277.21,847.82 L278.68,847.44 L280.15,847.04 L281.62,846.64 L283.08,846.22 L284.55,845.80 L286.02,845.36 L287.48,844.91 L288.94,844.45 L290.39,843.97 L291.84,843.49 L293.29,842.99 L294.74,842.47 L296.17,841.95 L297.61,841.41 L299.03,840.85 L300.45,840.29 L301.87,839.70 L303.28,839.11 L304.68,838.50 L306.07,837.87 L307.45,837.23 L308.83,836.57 L310.19,835.89 L311.55,835.20 L312.89,834.50 L314.22,833.77 L315.54,833.03 L316.84,832.28 L318.13,831.50 L319.41,830.71 L320.66,829.90 L321.90,829.07 L323.13,828.22 L324.33,827.35 L325.51,826.47 L326.68,825.56 L327.82,824.64 L328.94,823.69 L330.04,822.73 L331.12,821.75 L332.17,820.74 L333.20,819.71 L334.20,818.67 L335.18,817.60 L336.13,816.51 L337.06,815.41 L337.97,814.28 L338.85,813.14 L339.71,811.98 L340.55,810.80 L341.37,809.61 L342.17,808.40 L342.95,807.18 L343.70,805.94 L344.44,804.68 L345.16,803.42 L345.86,802.13 L346.54,800.84 L347.20,799.53 L347.85,798.22 L348.48,796.89 L349.09,795.55 L349.69,794.20 L350.27,792.84 L350.84,791.47 L351.39,790.09 L351.93,788.71 L352.46,787.32 L352.97,785.92 L353.47,784.51 L353.95,783.10 L354.43,781.68 L354.89,780.26 L355.35,778.83 L355.79,777.41 L356.22,775.97 L356.65,774.54 L357.06,773.10 L357.47,771.66 L357.87,770.22 L358.26,768.78 L358.64,767.33 L359.01,765.89 L359.38,764.44 L359.74,762.99 L360.09,761.54 L360.43,760.09 L360.76,758.64 L361.09,757.19 L361.41,755.73 L361.73,754.28 L362.04,752.82 L362.34,751.37 L362.63,749.91 L362.92,748.45 L363.20,746.98 L363.47,745.52 L363.74,744.06 L364.00,742.59 L364.26,741.13 L364.50,739.66 L364.75,738.19 L364.99,736.72 L365.22,735.25 L365.44,733.78 L365.67,732.31 L365.88,730.84 L366.09,729.37 L366.30,727.89 L366.50,726.41 L366.69,724.94 L366.88,723.46 L367.07,721.98 L367.25,720.50 L367.43,719.02 L367.60,717.54 L367.77,716.06 L367.93,714.58 L368.09,713.09 L368.25,711.61 L368.40,710.13 L368.55,708.64 L368.70,707.15 L368.84,705.67 L368.98,704.18 L369.11,702.69 L369.25,701.20 L369.37,699.71 L369.50,698.22 L369.62,696.73 L369.74,695.24 L369.86,693.75 L369.98,692.26 L370.09,690.76 L370.20,689.27 L370.31,687.78 L370.42,686.28 L370.52,684.79 L370.62,683.29 L370.73,681.80 L370.82,680.30 L370.92,678.80 L371.02,677.31 L371.11,675.81 L371.21,674.31 L371.30,672.81 L371.39,671.32 L371.48,669.82 L371.57,668.32 L371.66,666.82 L371.75,665.32 L371.84,663.82 L371.93,662.32 L372.02,660.82 L372.10,659.32 L372.19,657.82 L372.28,656.32 L372.37,654.82 L372.46,653.32 L372.55,651.82 L372.64,650.32 L372.73,648.82 L372.82,647.32 L372.90,645.81 L373.00,644.31 L373.09,642.81 L373.18,641.31 L373.27,639.81 L373.36,638.31 L373.45,636.81 L373.54,635.31 L373.63,633.81 L373.72,632.31 L373.81,630.81 L373.90,629.31 L373.99,627.81 L374.08,626.31 L374.17,624.81 L374.26,623.31 L374.34,621.81 L374.43,620.31 L374.52,618.81 L374.61,617.31 L374.69,615.81 L374.78,614.31 L374.87,612.82 L374.95,611.32 L375.04,609.82 L375.12,608.33 L375.21,606.83 L375.29,605.33 L375.37,603.84 L375.45,602.34 L375.53,600.85 L375.61,599.36 L375.69,597.86 L375.77,596.37 L375.85,594.88 L375.92,593.38 L376.00,591.89 L376.07,590.40 L376.15,588.91 L376.22,587.42 L376.29,585.93 L376.36,584.45 L376.43,582.96 L376.49,581.47 L376.56,579.99 L376.62,578.50 L376.69,577.02 L376.75,575.53 L376.81,574.05 L376.87,572.57 L376.93,571.08 L376.99,569.60 L377.04,568.12 L377.09,566.64 L377.15,565.17 L377.20,563.69 L377.24,562.21 L377.29,560.74 L377.34,559.26 L377.38,557.79 L377.42,556.31 L377.46,554.84 L377.50,553.37 L377.54,551.90 L377.57,550.43 L377.60,548.96 L377.63,547.50 L377.66,546.03 L377.69,544.57 L377.71,543.10 L377.73,541.64 L377.75,540.18 L377.77,538.72 L377.79,537.26 L377.80,535.80 L377.81,534.35 L377.82,532.89 L377.83,531.44 L377.83,529.98 L377.83,528.53" stroke="#00f" stroke-width="1.75" stroke-dasharray="7.95 7.85"/>
<path d="M56.23,887.29 L57.58,886.79 L58.92,886.28 L60.27,885.76 L61.61,885.22 L62.95,884.67 L64.29,884.11 L65.63,883.54 L66.96,882.96 L68.29,882.37 L69.63,881.77 L70.96,881.16 L72.29,880.53 L73.61,879.90 L74.94,879.26 L76.26,878.62 L77.59,877.96 L78.91,877.30 L80.24,876.63 L81.56,875.95 L82.88,875.27 L84.20,874.58 L85.52,873.88 L86.84,873.18 L88.16,872.48 L89.48,871.77 L90.79,871.05 L92.11,870.34 L93.43,869.62 L94.75,868.89 L96.07,868.17 L97.39,867.44 L98.70,866.71 L100.02,865.97 L101.34,865.24 L102.66,864.51 L103.98,863.77 L105.31,863.04 L106.63,862.31 L107.95,861.58 L109.27,860.85 L110.60,860.12 L111.92,859.39 L113.25,858.66 L114.58,857.94 L115.91,857.22 L117.24,856.51 L118.57,855.80 L119.90,855.09 L121.24,854.39 L122.58,853.69 L123.91,853.00 L125.25,852.31 L126.60,851.63 L127.94,850.96 L129.29,850.29 L130.64,849.63 L131.99,848.98 L133.34,848.34 L134.69,847.70 L136.05,847.08 L137.41,846.46 L138.78,845.85 L140.14,845.26 L141.51,844.67 L142.88,844.09 L144.26,843.53 L145.63,842.98 L147.01,842.44 L148.40,841.91 L149.78,841.39 L151.17,840.89 L152.57,840.40 L153.96,839.92 L155.36,839.46 L156.77,839.01 L158.17,838.58 L159.58,838.15 L160.99,837.75 L162.41,837.36 L163.83,836.98 L165.25,836.62 L166.67,836.27 L168.10,835.93 L169.53,835.62 L170.96,835.32 L172.39,835.03 L173.83,834.76 L175.27,834.50 L176.71,834.27 L178.16,834.05 L179.60,833.84 L181.05,833.65 L182.51,833.48 L183.96,833.33 L185.42,833.19 L186.87,833.07 L188.33,832.97 L189.80,832.88 L191.26,832.82 L192.73,832.77 L194.20,832.74 L195.67,832.73 L197.14,832.74 L198.61,832.76 L200.09,832.81 L201.57,832.87 L203.05,832.95 L204.53,833.05 L206.01,833.16 L207.50,833.29 L208.98,833.42 L210.47,833.58 L211.96,833.74 L213.45,833.92 L214.94,834.10 L216.43,834.30 L217.93,834.50 L219.42,834.71 L220.92,834.93 L222.41,835.15 L223.91,835.38 L225.41,835.61 L226.91,835.84 L228.41,836.08 L229.92,836.32 L231.42,836.56 L232.92,836.80 L234.43,837.03 L235.93,837.27 L237.44,837.50 L238.95,837.73 L240.45,837.95 L241.96,838.17 L243.47,838.38 L244.98,838.59 L246.49,838.79 L247.99,838.97 L249.50,839.15 L251.01,839.32 L252.52,839.48 L254.03,839.62 L255.54,839.75 L257.05,839.88 L258.56,839.98 L260.07,840.08 L261.58,840.16 L263.09,840.24 L264.59,840.29 L266.10,840.34 L267.60,840.37 L269.10,840.38 L270.60,840.38 L272.10,840.37 L273.60,840.34 L275.10,840.29 L276.59,840.23 L278.08,840.16 L279.57,840.07 L281.06,839.96 L282.54,839.83 L284.02,839.69 L285.50,839.53 L286.98,839.35 L288.45,839.16 L289.92,838.94 L291.38,838.71 L292.85,838.46 L294.30,838.19 L295.76,837.90 L297.21,837.59 L298.66,837.26 L300.10,836.91 L301.54,836.54 L302.97,836.15 L304.40,835.74 L305.82,835.31 L307.23,834.85 L308.63,834.38 L310.02,833.88 L311.40,833.36 L312.77,832.81 L314.13,832.25 L315.47,831.66 L316.80,831.04 L318.11,830.41 L319.41,829.74 L320.69,829.06 L321.95,828.35 L323.20,827.61 L324.43,826.85 L325.63,826.06 L326.81,825.25 L327.98,824.41 L329.11,823.55 L330.23,822.65 L331.32,821.73 L332.38,820.79 L333.42,819.81 L334.44,818.81 L335.42,817.79 L336.38,816.73 L337.32,815.66 L338.24,814.56 L339.12,813.43 L339.99,812.28 L340.84,811.12 L341.66,809.93 L342.46,808.72 L343.24,807.49 L344.00,806.24 L344.74,804.98 L345.46,803.69 L346.16,802.40 L346.84,801.08 L347.50,799.75 L348.15,798.41 L348.77,797.05 L349.39,795.68 L349.98,794.30 L350.56,792.91 L351.13,791.50 L351.68,790.09 L352.21,788.67 L352.73,787.24 L353.24,785.80 L353.74,784.35 L354.22,782.90 L354.69,781.44 L355.15,779.98 L355.60,778.52 L356.04,777.05 L356.47,775.58 L356.89,774.11 L357.30,772.64 L357.70,771.16 L358.09,769.69 L358.48,768.22 L358.86,766.75 L359.23,765.27 L359.59,763.80 L359.94,762.33 L360.29,760.85 L360.63,759.38 L360.96,757.91 L361.28,756.43 L361.60,754.96 L361.91,753.49 L362.21,752.01 L362.51,750.54 L362.80,749.06 L363.08,747.59 L363.36,746.12 L363.63,744.64 L363.89,743.17 L364.15,741.69 L364.40,740.22 L364.65,738.74 L364.88,737.27 L365.12,735.79 L365.35,734.32 L365.57,732.84 L365.79,731.37 L366.00,729.89 L366.20,728.42 L366.41,726.94 L366.60,725.47 L366.79,723.99 L366.98,722.51 L367.16,721.04 L367.34,719.56 L367.51,718.09 L367.68,716.61 L367.85,715.13 L368.01,713.66 L368.16,712.18 L368.32,710.70 L368.47,709.22 L368.61,707.75 L368.75,706.27 L368.89,704.79 L369.03,703.32 L369.16,701.84 L369.29,700.36 L369.41,698.88 L369.54,697.40 L369.66,695.93 L369.77,694.45 L369.89,692.97 L370.00,691.49 L370.11,690.01 L370.22,688.53 L370.33,687.06 L370.43,685.58 L370.53,684.10 L370.63,682.62 L370.73,681.14 L370.83,679.66 L370.92,678.18 L371.02,676.70 L371.11,675.22 L371.20,673.74 L371.29,672.26 L371.38,670.78 L371.47,669.30 L371.56,667.82 L371.65,666.34 L371.74,664.85 L371.83,663.37 L371.91,661.89 L372.00,660.41 L372.09,658.93 L372.18,657.45 L372.26,655.97 L372.35,654.48 L372.44,653.00 L372.53,651.52 L372.62,650.04 L372.71,648.55 L372.80,647.07 L372.89,645.59 L372.98,644.10 L373.07,642.62 L373.16,641.14 L373.25,639.65 L373.34,638.17 L373.43,636.69 L373.52,635.20 L373.62,633.72 L373.71,632.23 L373.80,630.75 L373.89,629.26 L373.98,627.78 L374.07,626.29 L374.16,624.81 L374.25,623.32 L374.34,621.84 L374.43,620.35 L374.52,618.87 L374.61,617.38 L374.70,615.89 L374.78,614.41 L374.87,612.92 L374.96,611.43 L375.04,609.95 L375.13,608.46 L375.21,606.97 L375.30,605.48 L375.38,604.00 L375.46,602.51 L375.55,601.02 L375.63,599.53 L375.71,598.04 L375.79,596.56 L375.86,595.07 L375.94,593.58 L376.02,592.09 L376.09,590.60 L376.17,589.11 L376.24,587.62 L376.31,586.13 L376.38,584.64 L376.45,583.15 L376.52,581.66 L376.59,580.17 L376.65,578.68 L376.71,577.19 L376.78,575.69 L376.84,574.20 L376.90,572.71 L376.96,571.22 L377.01,569.73 L377.07,568.23 L377.12,566.74 L377.17,565.25 L377.22,563.76 L377.27,562.26 L377.31,560.77 L377.36,559.28 L377.40,557.78 L377.44,556.29 L377.48,554.79 L377.52,553.30 L377.55,551.80 L377.58,550.31 L377.61,548.81 L377.64,547.32 L377.67,545.82 L377.69,544.33 L377.72,542.83 L377.73,541.34 L377.75,539.84 L377.77,538.34 L377.78,536.85 L377.79,535.35 L377.80,533.85 L377.80,532.35 L377.80,530.86 L377.80,529.36 L377.80,527.86" stroke="#f00" stroke-width="1.75"/>
<path d="M56.89,841.27 L58.08,840.80 L59.28,840.31 L60.49,839.79 L61.70,839.25 L62.92,838.69 L64.15,838.10 L65.38,837.50 L66.62,836.88 L67.87,836.24 L69.12,835.58 L70.37,834.91 L71.64,834.22 L72.90,833.52 L74.18,832.81 L75.46,832.08 L76.74,831.34 L78.04,830.60 L79.33,829.84 L80.63,829.08 L81.94,828.30 L83.25,827.53 L84.57,826.74 L85.89,825.96 L87.22,825.16 L88.55,824.37 L89.88,823.58 L91.22,822.78 L92.57,821.99 L93.92,821.20 L95.27,820.41 L96.63,819.62 L97.99,818.84 L99.35,818.06 L100.72,817.29 L102.10,816.53 L103.47,815.78 L104.85,815.03 L106.24,814.30 L107.62,813.58 L109.01,812.87 L110.41,812.17 L111.80,811.49 L113.20,810.82 L114.61,810.17 L116.01,809.54 L117.42,808.93 L118.83,808.33 L120.25,807.75 L121.66,807.20 L123.08,806.67 L124.50,806.16 L125.92,805.67 L127.35,805.21 L128.78,804.77 L130.21,804.35 L131.64,803.95 L133.07,803.58 L134.50,803.23 L135.94,802.90 L137.38,802.59 L138.82,802.31 L140.26,802.05 L141.70,801.81 L143.14,801.59 L144.58,801.39 L146.03,801.21 L147.48,801.05 L148.92,800.92 L150.37,800.80 L151.82,800.71 L153.26,800.64 L154.71,800.58 L156.16,800.55 L157.61,800.54 L159.06,800.55 L160.51,800.57 L161.96,800.62 L163.41,800.69 L164.85,800.78 L166.30,800.88 L167.75,801.01 L169.20,801.15 L170.64,801.31 L172.09,801.50 L173.53,801.70 L174.98,801.92 L176.42,802.16 L177.86,802.41 L179.31,802.69 L180.75,802.98 L182.18,803.29 L183.62,803.62 L185.06,803.97 L186.49,804.33 L187.92,804.71 L189.35,805.11 L190.78,805.53 L192.21,805.96 L193.63,806.41 L195.05,806.87 L196.47,807.36 L197.89,807.85 L199.31,808.36 L200.72,808.89 L202.14,809.42 L203.55,809.97 L204.96,810.53 L206.36,811.10 L207.77,811.68 L209.17,812.27 L210.57,812.86 L211.97,813.47 L213.37,814.08 L214.77,814.70 L216.16,815.32 L217.55,815.95 L218.94,816.58 L220.33,817.22 L221.72,817.86 L223.11,818.50 L224.49,819.14 L225.88,819.78 L227.26,820.42 L228.64,821.06 L230.02,821.70 L231.39,822.34 L232.77,822.98 L234.14,823.61 L235.52,824.23 L236.90,824.86 L238.27,825.47 L239.65,826.08 L241.03,826.68 L242.41,827.28 L243.79,827.86 L245.18,828.44 L246.56,829.01 L247.95,829.56 L249.35,830.11 L250.75,830.64 L252.15,831.16 L253.55,831.66 L254.97,832.15 L256.38,832.63 L257.80,833.09 L259.23,833.53 L260.67,833.96 L262.11,834.37 L263.56,834.76 L265.01,835.13 L266.48,835.49 L267.95,835.82 L269.43,836.13 L270.92,836.41 L272.41,836.68 L273.90,836.92 L275.41,837.14 L276.91,837.34 L278.42,837.51 L279.93,837.66 L281.44,837.78 L282.95,837.88 L284.47,837.95 L285.98,837.99 L287.49,838.00 L289.00,837.99 L290.51,837.95 L292.01,837.88 L293.51,837.78 L295.01,837.65 L296.50,837.49 L297.98,837.30 L299.46,837.07 L300.93,836.82 L302.39,836.53 L303.84,836.21 L305.29,835.85 L306.72,835.46 L308.14,835.03 L309.55,834.58 L310.95,834.08 L312.33,833.56 L313.70,833.00 L315.06,832.41 L316.40,831.79 L317.73,831.14 L319.04,830.46 L320.33,829.74 L321.60,829.00 L322.86,828.22 L324.09,827.42 L325.31,826.59 L326.50,825.72 L327.68,824.83 L328.83,823.92 L329.96,822.97 L331.06,822.00 L332.14,821.00 L333.20,819.97 L334.23,818.92 L335.23,817.84 L336.22,816.74 L337.18,815.62 L338.11,814.47 L339.02,813.30 L339.91,812.12 L340.78,810.91 L341.63,809.68 L342.45,808.44 L343.25,807.17 L344.04,805.90 L344.80,804.60 L345.54,803.30 L346.27,801.97 L346.97,800.64 L347.66,799.29 L348.32,797.94 L348.97,796.57 L349.60,795.19 L350.22,793.81 L350.81,792.41 L351.39,791.01 L351.96,789.61 L352.51,788.20 L353.04,786.78 L353.56,785.36 L354.06,783.94 L354.55,782.51 L355.03,781.08 L355.49,779.65 L355.94,778.21 L356.37,776.77 L356.80,775.33 L357.21,773.88 L357.61,772.43 L358.00,770.98 L358.37,769.53 L358.74,768.07 L359.10,766.61 L359.45,765.15 L359.79,763.69 L360.11,762.23 L360.44,760.76 L360.75,759.30 L361.05,757.83 L361.35,756.36 L361.64,754.88 L361.92,753.41 L362.20,751.94 L362.47,750.46 L362.73,748.99 L362.99,747.51 L363.25,746.04 L363.50,744.56 L363.74,743.08 L363.98,741.60 L364.22,740.12 L364.45,738.64 L364.68,737.16 L364.90,735.68 L365.11,734.20 L365.33,732.72 L365.53,731.24 L365.74,729.76 L365.94,728.27 L366.13,726.79 L366.33,725.31 L366.51,723.82 L366.70,722.34 L366.88,720.85 L367.06,719.37 L367.23,717.88 L367.40,716.39 L367.57,714.91 L367.73,713.42 L367.89,711.93 L368.05,710.44 L368.20,708.95 L368.36,707.47 L368.51,705.98 L368.65,704.49 L368.80,703.00 L368.94,701.51 L369.08,700.02 L369.21,698.53 L369.35,697.03 L369.48,695.54 L369.61,694.05 L369.74,692.56 L369.87,691.07 L369.99,689.58 L370.11,688.08 L370.24,686.59 L370.36,685.10 L370.48,683.61 L370.59,682.11 L370.71,680.62 L370.82,679.13 L370.94,677.63 L371.05,676.14 L371.16,674.65 L371.27,673.15 L371.39,671.66 L371.49,670.17 L371.60,668.67 L371.71,667.18 L371.82,665.68 L371.92,664.19 L372.03,662.70 L372.13,661.20 L372.23,659.71 L372.33,658.21 L372.43,656.72 L372.53,655.22 L372.63,653.73 L372.73,652.23 L372.83,650.74 L372.92,649.24 L373.02,647.75 L373.11,646.25 L373.21,644.76 L373.30,643.26 L373.39,641.76 L373.48,640.27 L373.57,638.77 L373.66,637.28 L373.75,635.78 L373.83,634.29 L373.92,632.79 L374.01,631.29 L374.09,629.80 L374.18,628.30 L374.26,626.81 L374.34,625.31 L374.42,623.81 L374.50,622.32 L374.58,620.82 L374.66,619.32 L374.74,617.83 L374.81,616.33 L374.89,614.83 L374.97,613.34 L375.04,611.84 L375.11,610.34 L375.19,608.85 L375.26,607.35 L375.33,605.85 L375.40,604.36 L375.47,602.86 L375.54,601.36 L375.61,599.86 L375.68,598.37 L375.74,596.87 L375.81,595.37 L375.87,593.88 L375.94,592.38 L376.00,590.88 L376.07,589.39 L376.13,587.89 L376.19,586.39 L376.25,584.89 L376.31,583.40 L376.37,581.90 L376.43,580.40 L376.49,578.90 L376.54,577.41 L376.60,575.91 L376.66,574.41 L376.71,572.92 L376.76,571.42 L376.82,569.92 L376.87,568.42 L376.92,566.93 L376.97,565.43 L377.03,563.93 L377.08,562.44 L377.13,560.94 L377.17,559.44 L377.22,557.94 L377.27,556.45 L377.32,554.95 L377.36,553.45 L377.41,551.96 L377.45,550.46 L377.50,548.96 L377.54,547.47 L377.59,545.97 L377.63,544.47 L377.67,542.97 L377.71,541.48 L377.75,539.98 L377.79,538.48 L377.83,536.99 L377.87,535.49 L377.91,533.99 L377.95,532.50 L377.98,531.00 L378.02,529.51 L378.06,528.01" stroke="rgb(0,139,0)" stroke-width="3.5" stroke-linecap="round" stroke-dasharray="0 7.92" stroke-dashoffset="-3.0"/>
</g>
<g clip-path="url(#cr)" fill="none">
<path d="M452.36,861.31 L453.35,861.29 L454.33,861.27 L455.32,861.25 L456.30,861.23 L457.29,861.21 L458.27,861.19 L459.26,861.17 L460.25,861.15 L461.24,861.14 L462.22,861.12 L463.21,861.10 L464.20,861.09 L465.19,861.07 L466.18,861.06 L467.17,861.04 L468.17,861.03 L469.16,861.01 L470.15,861.00 L471.14,860.98 L472.14,860.97 L473.13,860.96 L474.13,860.95 L475.12,860.93 L476.12,860.92 L477.11,860.91 L478.11,860.90 L479.11,860.89 L480.10,860.88 L481.10,860.87 L482.10,860.86 L483.10,860.85 L484.10,860.84 L485.10,860.83 L486.10,860.82 L487.10,860.81 L488.10,860.80 L489.10,860.79 L490.10,860.78 L491.10,860.77 L492.10,860.76 L493.11,860.75 L494.11,860.75 L495.11,860.74 L496.11,860.73 L497.12,860.72 L498.12,860.71 L499.13,860.70 L500.13,860.70 L501.14,860.69 L502.14,860.68 L503.15,860.67 L504.15,860.66 L505.16,860.65 L506.16,860.64 L507.17,860.64 L508.18,860.63 L509.18,860.62 L510.19,860.61 L511.20,860.60 L512.20,860.59 L513.21,860.58 L514.22,860.57 L515.23,860.56 L516.24,860.55 L517.25,860.54 L518.25,860.53 L519.26,860.52 L520.27,860.51 L521.28,860.50 L522.29,860.48 L523.30,860.47 L524.31,860.46 L525.32,860.45 L526.33,860.43 L527.34,860.42 L528.35,860.41 L529.36,860.39 L530.37,860.38 L531.38,860.37 L532.39,860.35 L533.40,860.33 L534.41,860.32 L535.42,860.30 L536.43,860.29 L537.44,860.27 L538.45,860.25 L539.47,860.23 L540.48,860.21 L541.49,860.19 L542.50,860.17 L543.51,860.15 L544.52,860.13 L545.53,860.11 L546.54,860.09 L547.55,860.07 L548.56,860.04 L549.58,860.02 L550.59,859.99 L551.60,859.97 L552.61,859.94 L553.62,859.92 L554.63,859.89 L555.64,859.86 L556.65,859.83 L557.66,859.80 L558.67,859.77 L559.68,859.74 L560.69,859.71 L561.70,859.68 L562.71,859.65 L563.72,859.61 L564.73,859.58 L565.74,859.54 L566.75,859.51 L567.76,859.47 L568.77,859.43 L569.78,859.39 L570.79,859.35 L571.79,859.31 L572.80,859.27 L573.81,859.23 L574.82,859.18 L575.83,859.14 L576.84,859.09 L577.84,859.05 L578.85,859.00 L579.86,858.95 L580.86,858.90 L581.87,858.85 L582.88,858.80 L583.88,858.75 L584.89,858.70 L585.89,858.64 L586.90,858.59 L587.90,858.53 L588.91,858.47 L589.91,858.41 L590.92,858.35 L591.92,858.29 L592.93,858.23 L593.93,858.17 L594.93,858.10 L595.93,858.03 L596.94,857.97 L597.94,857.90 L598.94,857.83 L599.94,857.76 L600.94,857.69 L601.94,857.61 L602.94,857.54 L603.94,857.46 L604.94,857.39 L605.94,857.31 L606.94,857.23 L607.94,857.15 L608.93,857.06 L609.93,856.98 L610.93,856.89 L611.92,856.81 L612.92,856.72 L613.92,856.63 L614.91,856.54 L615.91,856.45 L616.90,856.35 L617.89,856.26 L618.89,856.16 L619.88,856.06 L620.87,855.96 L621.86,855.86 L622.85,855.76 L623.85,855.65 L624.84,855.55 L625.83,855.44 L626.81,855.33 L627.80,855.22 L628.79,855.11 L629.78,854.99 L630.76,854.87 L631.75,854.75 L632.74,854.63 L633.72,854.51 L634.71,854.38 L635.69,854.25 L636.67,854.12 L637.66,853.98 L638.64,853.84 L639.62,853.70 L640.60,853.56 L641.58,853.41 L642.56,853.26 L643.54,853.11 L644.52,852.95 L645.50,852.79 L646.47,852.62 L647.45,852.45 L648.43,852.28 L649.40,852.10 L650.38,851.92 L651.35,851.74 L652.32,851.55 L653.29,851.36 L654.27,851.16 L655.24,850.96 L656.21,850.75 L657.18,850.54 L658.14,850.32 L659.11,850.10 L660.08,849.87 L661.04,849.64 L662.01,849.41 L662.98,849.16 L663.94,848.92 L664.90,848.66 L665.86,848.41 L666.83,848.14 L667.79,847.87 L668.75,847.60 L669.71,847.31 L670.66,847.03 L671.62,846.73 L672.58,846.43 L673.53,846.13 L674.49,845.82 L675.44,845.50 L676.40,845.17 L677.35,844.84 L678.30,844.51 L679.25,844.17 L680.20,843.82 L681.15,843.47 L682.10,843.11 L683.04,842.75 L683.99,842.38 L684.93,842.01 L685.88,841.64 L686.82,841.26 L687.76,840.88 L688.70,840.49 L689.65,840.10 L690.58,839.70 L691.52,839.30 L692.46,838.90 L693.40,838.49 L694.33,838.09 L695.27,837.67 L696.20,837.26 L697.13,836.84 L698.06,836.42 L698.99,836.00 L699.92,835.58 L700.85,835.15 L701.78,834.72 L702.70,834.29 L703.63,833.86 L704.55,833.43 L705.48,832.99 L706.40,832.55 L707.32,832.12 L708.24,831.68 L709.16,831.24 L710.08,830.80 L710.99,830.36 L711.91,829.92 L712.82,829.48 L713.73,829.04 L714.65,828.60 L715.56,828.16 L716.47,827.71 L717.37,827.27 L718.28,826.83 L719.19,826.39 L720.09,825.95 L720.99,825.51 L721.90,825.07 L722.80,824.62 L723.69,824.18 L724.59,823.73 L725.49,823.28 L726.38,822.83 L727.27,822.38 L728.16,821.93 L729.05,821.47 L729.93,821.01 L730.82,820.55 L731.70,820.09 L732.58,819.62 L733.46,819.16 L734.33,818.68 L735.21,818.21 L736.08,817.73 L736.95,817.25 L737.81,816.76 L738.68,816.27 L739.54,815.78 L740.40,815.28 L741.25,814.78 L742.11,814.27 L742.96,813.76 L743.80,813.25 L744.65,812.72 L745.49,812.20 L746.33,811.66 L747.17,811.13 L748.00,810.58 L748.83,810.03 L749.66,809.48 L750.49,808.92 L751.31,808.35 L752.13,807.78 L752.94,807.20 L753.75,806.61 L754.56,806.01 L755.36,805.41 L756.15,804.80 L756.94,804.18 L757.72,803.55 L758.49,802.92 L759.25,802.27 L760.00,801.61 L760.75,800.95 L761.47,800.27 L762.19,799.58 L762.89,798.88 L763.58,798.18 L764.26,797.45 L764.92,796.72 L765.56,795.97 L766.19,795.22 L766.80,794.45 L767.39,793.67 L767.98,792.88 L768.54,792.08 L769.09,791.27 L769.62,790.44 L770.14,789.61 L770.64,788.77 L771.13,787.92 L771.60,787.06 L772.06,786.19 L772.50,785.31 L772.92,784.42 L773.33,783.52 L773.72,782.62 L774.10,781.70 L774.46,780.78 L774.81,779.86 L775.15,778.92 L775.47,777.98 L775.78,777.03 L776.08,776.08 L776.37,775.11 L776.64,774.15 L776.91,773.18 L777.16,772.20 L777.41,771.22 L777.65,770.23 L777.87,769.24 L778.09,768.25 L778.30,767.25 L778.51,766.25 L778.70,765.24 L778.89,764.23 L779.08,763.22 L779.25,762.21 L779.43,761.20 L779.59,760.18 L779.76,759.16 L779.92,758.14 L780.07,757.12 L780.23,756.10 L780.38,755.08 L780.52,754.06 L780.67,753.04 L780.82,752.02 L780.96,751.00 L781.10,749.98 L781.25,748.97 L781.39,747.95 L781.53,746.94 L781.67,745.93 L781.81,744.92 L781.95,743.91 L782.09,742.91 L782.24,741.91 L782.38,740.92 L782.52,739.93 L782.67,738.94 L782.81,737.96 L782.96,736.98 L783.10,736.01 L783.25,735.04 L783.40,734.08 L783.56,733.12 L783.71,732.17 L783.87,731.23 L784.03,730.29 L784.19,729.37 L784.36,728.44 L784.53,727.53" stroke="#000" stroke-width="2.8" stroke-linecap="round" stroke-dasharray="0 12.75" stroke-dashoffset="-6.1"/>
<path d="M452.34,542.36 L452.78,543.73 L453.22,545.10 L453.66,546.47 L454.09,547.83 L454.53,549.20 L454.97,550.57 L455.42,551.93 L455.86,553.30 L456.30,554.67 L456.74,556.03 L457.19,557.40 L457.63,558.77 L458.08,560.14 L458.52,561.50 L458.97,562.87 L459.42,564.23 L459.87,565.60 L460.32,566.97 L460.77,568.33 L461.22,569.70 L461.67,571.06 L462.13,572.43 L462.58,573.80 L463.04,575.16 L463.50,576.52 L463.96,577.89 L464.41,579.25 L464.87,580.62 L465.34,581.98 L465.80,583.34 L466.26,584.71 L466.73,586.07 L467.19,587.43 L467.66,588.79 L468.13,590.16 L468.60,591.52 L469.07,592.88 L469.54,594.24 L470.02,595.60 L470.49,596.96 L470.97,598.32 L471.45,599.68 L471.93,601.03 L472.41,602.39 L472.89,603.75 L473.37,605.11 L473.86,606.46 L474.34,607.82 L474.83,609.17 L475.32,610.53 L475.81,611.88 L476.31,613.24 L476.80,614.59 L477.30,615.94 L477.79,617.29 L478.29,618.64 L478.79,619.99 L479.30,621.34 L479.80,622.69 L480.31,624.04 L480.81,625.39 L481.32,626.74 L481.83,628.08 L482.35,629.43 L482.86,630.77 L483.38,632.12 L483.90,633.46 L484.42,634.80 L484.94,636.14 L485.46,637.48 L485.99,638.82 L486.52,640.16 L487.05,641.50 L487.58,642.84 L488.11,644.18 L488.65,645.51 L489.19,646.85 L489.73,648.18 L490.27,649.51 L490.82,650.84 L491.36,652.18 L491.91,653.51 L492.46,654.83 L493.01,656.16 L493.57,657.49 L494.13,658.82 L494.69,660.14 L495.25,661.46 L495.81,662.79 L496.38,664.11 L496.95,665.43 L497.52,666.75 L498.09,668.07 L498.67,669.38 L499.25,670.70 L499.83,672.02 L500.41,673.33 L500.99,674.64 L501.58,675.95 L502.17,677.26 L502.77,678.57 L503.36,679.88 L503.96,681.19 L504.56,682.49 L505.16,683.80 L505.77,685.10 L506.38,686.40 L506.99,687.70 L507.60,689.00 L508.22,690.30 L508.84,691.60 L509.46,692.89 L510.08,694.18 L510.71,695.48 L511.34,696.77 L511.97,698.06 L512.61,699.34 L513.25,700.63 L513.89,701.92 L514.53,703.20 L515.18,704.48 L515.83,705.76 L516.48,707.04 L517.14,708.32 L517.79,709.60 L518.46,710.87 L519.12,712.14 L519.79,713.42 L520.46,714.69 L521.13,715.95 L521.81,717.22 L522.49,718.49 L523.17,719.75 L523.86,721.01 L524.55,722.27 L525.24,723.53 L525.94,724.79 L526.63,726.04 L527.34,727.30 L528.04,728.55 L528.75,729.80 L529.46,731.05 L530.18,732.29 L530.90,733.54 L531.62,734.78 L532.34,736.02 L533.07,737.26 L533.80,738.50 L534.54,739.74 L535.28,740.97 L536.02,742.20 L536.77,743.43 L537.52,744.66 L538.27,745.89 L539.02,747.11 L539.78,748.33 L540.55,749.56 L541.31,750.77 L542.09,751.99 L542.86,753.21 L543.64,754.42 L544.42,755.63 L545.20,756.84 L545.99,758.05 L546.79,759.25 L547.58,760.45 L548.38,761.65 L549.19,762.85 L550.00,764.04 L550.81,765.23 L551.63,766.42 L552.45,767.61 L553.28,768.79 L554.11,769.96 L554.95,771.14 L555.79,772.31 L556.64,773.48 L557.49,774.64 L558.34,775.80 L559.20,776.96 L560.07,778.11 L560.94,779.25 L561.82,780.40 L562.70,781.53 L563.59,782.67 L564.48,783.79 L565.38,784.92 L566.29,786.04 L567.20,787.15 L568.12,788.26 L569.04,789.36 L569.97,790.46 L570.91,791.55 L571.85,792.63 L572.80,793.71 L573.75,794.79 L574.71,795.85 L575.68,796.91 L576.65,797.97 L577.63,799.02 L578.62,800.06 L579.62,801.10 L580.62,802.12 L581.63,803.14 L582.64,804.16 L583.67,805.17 L584.70,806.17 L585.74,807.16 L586.78,808.14 L587.84,809.12 L588.90,810.09 L589.97,811.05 L591.04,812.00 L592.13,812.95 L593.22,813.89 L594.32,814.82 L595.43,815.74 L596.55,816.65 L597.67,817.55 L598.80,818.44 L599.95,819.33 L601.10,820.20 L602.26,821.07 L603.43,821.93 L604.60,822.78 L605.79,823.61 L606.98,824.44 L608.18,825.26 L609.39,826.06 L610.61,826.85 L611.84,827.63 L613.07,828.40 L614.32,829.15 L615.56,829.89 L616.82,830.61 L618.09,831.32 L619.36,832.01 L620.64,832.69 L621.92,833.35 L623.21,834.00 L624.51,834.63 L625.82,835.24 L627.13,835.83 L628.45,836.40 L629.78,836.96 L631.11,837.49 L632.45,838.01 L633.79,838.50 L635.14,838.97 L636.49,839.43 L637.86,839.86 L639.22,840.26 L640.59,840.65 L641.97,841.01 L643.35,841.35 L644.74,841.66 L646.13,841.95 L647.53,842.22 L648.93,842.45 L650.34,842.67 L651.75,842.85 L653.17,843.01 L654.59,843.14 L656.01,843.25 L657.44,843.32 L658.87,843.37 L660.30,843.39 L661.74,843.39 L663.18,843.36 L664.62,843.30 L666.05,843.22 L667.49,843.11 L668.93,842.98 L670.37,842.82 L671.80,842.64 L673.23,842.43 L674.66,842.21 L676.09,841.96 L677.51,841.68 L678.93,841.39 L680.34,841.07 L681.74,840.74 L683.14,840.38 L684.53,840.00 L685.92,839.61 L687.29,839.19 L688.66,838.76 L690.02,838.31 L691.38,837.84 L692.73,837.36 L694.07,836.86 L695.41,836.35 L696.74,835.83 L698.07,835.30 L699.39,834.75 L700.71,834.20 L702.03,833.63 L703.34,833.06 L704.65,832.48 L705.96,831.90 L707.27,831.31 L708.57,830.72 L709.88,830.12 L711.18,829.52 L712.49,828.92 L713.79,828.32 L715.09,827.72 L716.40,827.12 L717.70,826.52 L719.01,825.92 L720.32,825.32 L721.62,824.72 L722.93,824.12 L724.24,823.51 L725.54,822.90 L726.85,822.29 L728.15,821.67 L729.46,821.04 L730.76,820.41 L732.07,819.77 L733.37,819.13 L734.67,818.47 L735.97,817.81 L737.27,817.14 L738.57,816.46 L739.87,815.77 L741.16,815.06 L742.45,814.35 L743.73,813.62 L745.00,812.88 L746.27,812.12 L747.52,811.35 L748.76,810.57 L749.99,809.76 L751.20,808.95 L752.39,808.11 L753.56,807.26 L754.71,806.38 L755.84,805.49 L756.94,804.58 L758.02,803.65 L759.07,802.70 L760.09,801.72 L761.08,800.73 L762.05,799.71 L762.98,798.67 L763.89,797.62 L764.77,796.54 L765.62,795.44 L766.45,794.33 L767.25,793.20 L768.02,792.05 L768.77,790.88 L769.49,789.70 L770.19,788.50 L770.87,787.29 L771.52,786.05 L772.15,784.81 L772.75,783.55 L773.33,782.28 L773.89,780.99 L774.43,779.69 L774.95,778.37 L775.44,777.05 L775.91,775.71 L776.37,774.36 L776.80,773.00 L777.22,771.63 L777.61,770.25 L777.99,768.86 L778.34,767.47 L778.68,766.06 L779.00,764.64 L779.31,763.22 L779.59,761.79 L779.86,760.35 L780.12,758.91 L780.36,757.46 L780.59,756.01 L780.81,754.55 L781.01,753.10 L781.21,751.63 L781.40,750.17 L781.58,748.71 L781.76,747.25 L781.93,745.79 L782.11,744.33 L782.27,742.88 L782.44,741.43 L782.61,739.98 L782.79,738.54 L782.96,737.11 L783.14,735.68 L783.33,734.27 L783.52,732.86 L783.72,731.46 L783.93,730.07 L784.16,728.69 L784.39,727.32" stroke="#000" stroke-width="1.5" stroke-dasharray="7.8 8.1" fill="none"/><path d="M452.34,542.36 L452.78,543.73 L453.22,545.10 L453.66,546.47 L454.09,547.83 L454.53,549.20 L454.97,550.57 L455.42,551.93 L455.86,553.30 L456.30,554.67 L456.74,556.03 L457.19,557.40 L457.63,558.77 L458.08,560.14 L458.52,561.50 L458.97,562.87 L459.42,564.23 L459.87,565.60 L460.32,566.97 L460.77,568.33 L461.22,569.70 L461.67,571.06 L462.13,572.43 L462.58,573.80 L463.04,575.16 L463.50,576.52 L463.96,577.89 L464.41,579.25 L464.87,580.62 L465.34,581.98 L465.80,583.34 L466.26,584.71 L466.73,586.07 L467.19,587.43 L467.66,588.79 L468.13,590.16 L468.60,591.52 L469.07,592.88 L469.54,594.24 L470.02,595.60 L470.49,596.96 L470.97,598.32 L471.45,599.68 L471.93,601.03 L472.41,602.39 L472.89,603.75 L473.37,605.11 L473.86,606.46 L474.34,607.82 L474.83,609.17 L475.32,610.53 L475.81,611.88 L476.31,613.24 L476.80,614.59 L477.30,615.94 L477.79,617.29 L478.29,618.64 L478.79,619.99 L479.30,621.34 L479.80,622.69 L480.31,624.04 L480.81,625.39 L481.32,626.74 L481.83,628.08 L482.35,629.43 L482.86,630.77 L483.38,632.12 L483.90,633.46 L484.42,634.80 L484.94,636.14 L485.46,637.48 L485.99,638.82 L486.52,640.16 L487.05,641.50 L487.58,642.84 L488.11,644.18 L488.65,645.51 L489.19,646.85 L489.73,648.18 L490.27,649.51 L490.82,650.84 L491.36,652.18 L491.91,653.51 L492.46,654.83 L493.01,656.16 L493.57,657.49 L494.13,658.82 L494.69,660.14 L495.25,661.46 L495.81,662.79 L496.38,664.11 L496.95,665.43 L497.52,666.75 L498.09,668.07 L498.67,669.38 L499.25,670.70 L499.83,672.02 L500.41,673.33 L500.99,674.64 L501.58,675.95 L502.17,677.26 L502.77,678.57 L503.36,679.88 L503.96,681.19 L504.56,682.49 L505.16,683.80 L505.77,685.10 L506.38,686.40 L506.99,687.70 L507.60,689.00 L508.22,690.30 L508.84,691.60 L509.46,692.89 L510.08,694.18 L510.71,695.48 L511.34,696.77 L511.97,698.06 L512.61,699.34 L513.25,700.63 L513.89,701.92 L514.53,703.20 L515.18,704.48 L515.83,705.76 L516.48,707.04 L517.14,708.32 L517.79,709.60 L518.46,710.87 L519.12,712.14 L519.79,713.42 L520.46,714.69 L521.13,715.95 L521.81,717.22 L522.49,718.49 L523.17,719.75 L523.86,721.01 L524.55,722.27 L525.24,723.53 L525.94,724.79 L526.63,726.04 L527.34,727.30 L528.04,728.55 L528.75,729.80 L529.46,731.05 L530.18,732.29 L530.90,733.54 L531.62,734.78 L532.34,736.02 L533.07,737.26 L533.80,738.50 L534.54,739.74 L535.28,740.97 L536.02,742.20 L536.77,743.43 L537.52,744.66 L538.27,745.89 L539.02,747.11 L539.78,748.33 L540.55,749.56 L541.31,750.77 L542.09,751.99 L542.86,753.21 L543.64,754.42 L544.42,755.63 L545.20,756.84 L545.99,758.05 L546.79,759.25 L547.58,760.45 L548.38,761.65 L549.19,762.85 L550.00,764.04 L550.81,765.23 L551.63,766.42 L552.45,767.61 L553.28,768.79 L554.11,769.96 L554.95,771.14 L555.79,772.31 L556.64,773.48 L557.49,774.64 L558.34,775.80 L559.20,776.96 L560.07,778.11 L560.94,779.25 L561.82,780.40 L562.70,781.53 L563.59,782.67 L564.48,783.79 L565.38,784.92 L566.29,786.04 L567.20,787.15 L568.12,788.26 L569.04,789.36 L569.97,790.46 L570.91,791.55 L571.85,792.63 L572.80,793.71 L573.75,794.79 L574.71,795.85 L575.68,796.91 L576.65,797.97 L577.63,799.02 L578.62,800.06 L579.62,801.10 L580.62,802.12 L581.63,803.14 L582.64,804.16 L583.67,805.17 L584.70,806.17 L585.74,807.16 L586.78,808.14 L587.84,809.12 L588.90,810.09 L589.97,811.05 L591.04,812.00 L592.13,812.95 L593.22,813.89 L594.32,814.82 L595.43,815.74 L596.55,816.65 L597.67,817.55 L598.80,818.44 L599.95,819.33 L601.10,820.20 L602.26,821.07 L603.43,821.93 L604.60,822.78 L605.79,823.61 L606.98,824.44 L608.18,825.26 L609.39,826.06 L610.61,826.85 L611.84,827.63 L613.07,828.40 L614.32,829.15 L615.56,829.89 L616.82,830.61 L618.09,831.32 L619.36,832.01 L620.64,832.69 L621.92,833.35 L623.21,834.00 L624.51,834.63 L625.82,835.24 L627.13,835.83 L628.45,836.40 L629.78,836.96 L631.11,837.49 L632.45,838.01 L633.79,838.50 L635.14,838.97 L636.49,839.43 L637.86,839.86 L639.22,840.26 L640.59,840.65 L641.97,841.01 L643.35,841.35 L644.74,841.66 L646.13,841.95 L647.53,842.22 L648.93,842.45 L650.34,842.67 L651.75,842.85 L653.17,843.01 L654.59,843.14 L656.01,843.25 L657.44,843.32 L658.87,843.37 L660.30,843.39 L661.74,843.39 L663.18,843.36 L664.62,843.30 L666.05,843.22 L667.49,843.11 L668.93,842.98 L670.37,842.82 L671.80,842.64 L673.23,842.43 L674.66,842.21 L676.09,841.96 L677.51,841.68 L678.93,841.39 L680.34,841.07 L681.74,840.74 L683.14,840.38 L684.53,840.00 L685.92,839.61 L687.29,839.19 L688.66,838.76 L690.02,838.31 L691.38,837.84 L692.73,837.36 L694.07,836.86 L695.41,836.35 L696.74,835.83 L698.07,835.30 L699.39,834.75 L700.71,834.20 L702.03,833.63 L703.34,833.06 L704.65,832.48 L705.96,831.90 L707.27,831.31 L708.57,830.72 L709.88,830.12 L711.18,829.52 L712.49,828.92 L713.79,828.32 L715.09,827.72 L716.40,827.12 L717.70,826.52 L719.01,825.92 L720.32,825.32 L721.62,824.72 L722.93,824.12 L724.24,823.51 L725.54,822.90 L726.85,822.29 L728.15,821.67 L729.46,821.04 L730.76,820.41 L732.07,819.77 L733.37,819.13 L734.67,818.47 L735.97,817.81 L737.27,817.14 L738.57,816.46 L739.87,815.77 L741.16,815.06 L742.45,814.35 L743.73,813.62 L745.00,812.88 L746.27,812.12 L747.52,811.35 L748.76,810.57 L749.99,809.76 L751.20,808.95 L752.39,808.11 L753.56,807.26 L754.71,806.38 L755.84,805.49 L756.94,804.58 L758.02,803.65 L759.07,802.70 L760.09,801.72 L761.08,800.73 L762.05,799.71 L762.98,798.67 L763.89,797.62 L764.77,796.54 L765.62,795.44 L766.45,794.33 L767.25,793.20 L768.02,792.05 L768.77,790.88 L769.49,789.70 L770.19,788.50 L770.87,787.29 L771.52,786.05 L772.15,784.81 L772.75,783.55 L773.33,782.28 L773.89,780.99 L774.43,779.69 L774.95,778.37 L775.44,777.05 L775.91,775.71 L776.37,774.36 L776.80,773.00 L777.22,771.63 L777.61,770.25 L777.99,768.86 L778.34,767.47 L778.68,766.06 L779.00,764.64 L779.31,763.22 L779.59,761.79 L779.86,760.35 L780.12,758.91 L780.36,757.46 L780.59,756.01 L780.81,754.55 L781.01,753.10 L781.21,751.63 L781.40,750.17 L781.58,748.71 L781.76,747.25 L781.93,745.79 L782.11,744.33 L782.27,742.88 L782.44,741.43 L782.61,739.98 L782.79,738.54 L782.96,737.11 L783.14,735.68 L783.33,734.27 L783.52,732.86 L783.72,731.46 L783.93,730.07 L784.16,728.69 L784.39,727.32" stroke="#000" stroke-width="2.6" stroke-linecap="round" stroke-dasharray="0 15.9" stroke-dashoffset="-11.75" fill="none"/>
<path d="M452.22,947.33 L453.16,946.86 L454.10,946.39 L455.03,945.92 L455.97,945.44 L456.90,944.96 L457.83,944.48 L458.77,944.00 L459.70,943.51 L460.63,943.02 L461.56,942.53 L462.49,942.03 L463.41,941.54 L464.34,941.04 L465.27,940.54 L466.19,940.04 L467.12,939.53 L468.04,939.03 L468.97,938.52 L469.89,938.01 L470.81,937.49 L471.73,936.98 L472.65,936.46 L473.58,935.95 L474.50,935.43 L475.41,934.90 L476.33,934.38 L477.25,933.86 L478.17,933.33 L479.09,932.80 L480.00,932.27 L480.92,931.74 L481.84,931.21 L482.75,930.68 L483.67,930.14 L484.58,929.61 L485.50,929.07 L486.41,928.53 L487.33,928.00 L488.24,927.46 L489.15,926.92 L490.07,926.37 L490.98,925.83 L491.89,925.29 L492.81,924.75 L493.72,924.20 L494.63,923.66 L495.54,923.11 L496.45,922.56 L497.37,922.02 L498.28,921.47 L499.19,920.92 L500.10,920.37 L501.01,919.83 L501.92,919.28 L502.84,918.73 L503.75,918.18 L504.66,917.63 L505.57,917.08 L506.48,916.53 L507.39,915.98 L508.31,915.43 L509.22,914.88 L510.13,914.34 L511.04,913.79 L511.96,913.24 L512.87,912.69 L513.78,912.14 L514.70,911.60 L515.61,911.05 L516.52,910.50 L517.44,909.96 L518.35,909.41 L519.27,908.87 L520.18,908.32 L521.10,907.78 L522.01,907.24 L522.93,906.70 L523.85,906.16 L524.77,905.62 L525.68,905.08 L526.60,904.54 L527.52,904.01 L528.44,903.47 L529.36,902.94 L530.28,902.40 L531.20,901.87 L532.12,901.34 L533.04,900.81 L533.97,900.29 L534.89,899.76 L535.82,899.24 L536.74,898.71 L537.67,898.19 L538.59,897.67 L539.52,897.15 L540.45,896.64 L541.38,896.12 L542.30,895.61 L543.24,895.10 L544.17,894.59 L545.10,894.09 L546.03,893.58 L546.96,893.08 L547.90,892.58 L548.83,892.08 L549.77,891.59 L550.71,891.09 L551.65,890.60 L552.59,890.11 L553.53,889.63 L554.47,889.15 L555.41,888.66 L556.35,888.19 L557.30,887.71 L558.25,887.24 L559.19,886.77 L560.14,886.30 L561.09,885.83 L562.04,885.37 L562.99,884.91 L563.94,884.46 L564.90,884.00 L565.85,883.55 L566.81,883.11 L567.77,882.66 L568.73,882.22 L569.69,881.79 L570.65,881.35 L571.61,880.92 L572.58,880.50 L573.55,880.07 L574.51,879.65 L575.48,879.24 L576.45,878.82 L577.42,878.41 L578.40,878.01 L579.37,877.61 L580.35,877.21 L581.33,876.81 L582.31,876.42 L583.29,876.04 L584.27,875.66 L585.26,875.28 L586.24,874.90 L587.23,874.53 L588.22,874.16 L589.21,873.80 L590.20,873.44 L591.19,873.08 L592.19,872.73 L593.18,872.38 L594.18,872.03 L595.18,871.68 L596.18,871.34 L597.18,871.00 L598.18,870.67 L599.18,870.33 L600.19,870.00 L601.19,869.67 L602.20,869.35 L603.20,869.02 L604.21,868.70 L605.22,868.38 L606.23,868.07 L607.24,867.75 L608.25,867.44 L609.26,867.13 L610.28,866.82 L611.29,866.51 L612.30,866.21 L613.32,865.91 L614.33,865.60 L615.35,865.30 L616.37,865.00 L617.39,864.71 L618.40,864.41 L619.42,864.11 L620.44,863.82 L621.46,863.53 L622.48,863.23 L623.50,862.94 L624.52,862.65 L625.54,862.36 L626.56,862.07 L627.58,861.78 L628.61,861.49 L629.63,861.21 L630.65,860.92 L631.67,860.63 L632.69,860.34 L633.72,860.06 L634.74,859.77 L635.76,859.48 L636.78,859.19 L637.81,858.91 L638.83,858.62 L639.85,858.33 L640.87,858.04 L641.89,857.75 L642.92,857.46 L643.94,857.17 L644.96,856.88 L645.98,856.59 L647.00,856.29 L648.02,856.00 L649.04,855.70 L650.06,855.41 L651.08,855.11 L652.10,854.81 L653.11,854.51 L654.13,854.21 L655.15,853.90 L656.16,853.60 L657.18,853.29 L658.20,852.98 L659.21,852.67 L660.22,852.36 L661.24,852.04 L662.25,851.73 L663.26,851.41 L664.27,851.09 L665.28,850.76 L666.29,850.44 L667.29,850.11 L668.30,849.78 L669.31,849.44 L670.31,849.11 L671.32,848.77 L672.32,848.43 L673.32,848.08 L674.32,847.73 L675.32,847.38 L676.32,847.03 L677.31,846.67 L678.31,846.31 L679.30,845.94 L680.29,845.58 L681.29,845.21 L682.28,844.83 L683.26,844.45 L684.25,844.07 L685.24,843.68 L686.22,843.29 L687.20,842.90 L688.18,842.50 L689.16,842.10 L690.14,841.69 L691.12,841.28 L692.09,840.86 L693.06,840.44 L694.03,840.02 L695.00,839.59 L695.97,839.15 L696.94,838.71 L697.90,838.27 L698.86,837.82 L699.82,837.37 L700.78,836.91 L701.74,836.45 L702.69,835.99 L703.65,835.52 L704.60,835.04 L705.55,834.57 L706.50,834.09 L707.45,833.61 L708.39,833.12 L709.34,832.63 L710.28,832.14 L711.22,831.64 L712.16,831.14 L713.10,830.64 L714.04,830.13 L714.98,829.62 L715.91,829.11 L716.85,828.60 L717.78,828.08 L718.71,827.57 L719.64,827.05 L720.57,826.52 L721.50,826.00 L722.43,825.47 L723.36,824.95 L724.29,824.42 L725.21,823.88 L726.14,823.35 L727.06,822.82 L727.98,822.28 L728.90,821.74 L729.82,821.21 L730.75,820.67 L731.66,820.13 L732.58,819.59 L733.50,819.05 L734.42,818.50 L735.34,817.96 L736.25,817.42 L737.17,816.88 L738.09,816.33 L739.00,815.79 L739.92,815.24 L740.83,814.70 L741.74,814.16 L742.65,813.61 L743.56,813.06 L744.47,812.51 L745.37,811.96 L746.27,811.40 L747.16,810.84 L748.05,810.28 L748.93,809.71 L749.81,809.14 L750.68,808.56 L751.55,807.97 L752.41,807.38 L753.26,806.79 L754.10,806.18 L754.94,805.57 L755.76,804.95 L756.58,804.33 L757.39,803.69 L758.18,803.04 L758.97,802.39 L759.75,801.72 L760.51,801.05 L761.26,800.36 L762.00,799.67 L762.72,798.96 L763.43,798.24 L764.13,797.50 L764.82,796.75 L765.48,795.99 L766.14,795.22 L766.77,794.43 L767.39,793.63 L768.00,792.81 L768.58,791.97 L769.15,791.12 L769.70,790.26 L770.24,789.37 L770.76,788.48 L771.26,787.57 L771.74,786.64 L772.21,785.71 L772.66,784.76 L773.10,783.80 L773.53,782.82 L773.94,781.84 L774.33,780.85 L774.71,779.84 L775.08,778.83 L775.44,777.81 L775.78,776.78 L776.11,775.75 L776.43,774.70 L776.74,773.66 L777.04,772.60 L777.32,771.54 L777.60,770.48 L777.86,769.41 L778.12,768.33 L778.37,767.26 L778.60,766.18 L778.83,765.10 L779.05,764.02 L779.27,762.94 L779.47,761.86 L779.67,760.77 L779.86,759.69 L780.05,758.61 L780.22,757.54 L780.40,756.46 L780.56,755.39 L780.73,754.32 L780.88,753.26 L781.04,752.20 L781.19,751.14 L781.33,750.09 L781.48,749.04 L781.62,748.00 L781.75,746.96 L781.89,745.92 L782.02,744.89 L782.15,743.85 L782.28,742.82 L782.41,741.80 L782.54,740.77 L782.67,739.74 L782.80,738.72 L782.93,737.70 L783.06,736.67 L783.20,735.65 L783.33,734.63 L783.47,733.60 L783.61,732.58 L783.75,731.55 L783.89,730.53 L784.04,729.50 L784.19,728.47 L784.35,727.44" stroke="#00f" stroke-width="1.75" stroke-dasharray="7.95 7.85"/>
<path d="M452.16,887.52 L453.15,887.12 L454.13,886.71 L455.11,886.29 L456.08,885.87 L457.04,885.45 L458.00,885.01 L458.96,884.58 L459.91,884.13 L460.85,883.69 L461.79,883.23 L462.72,882.78 L463.65,882.31 L464.58,881.85 L465.50,881.37 L466.42,880.90 L467.33,880.42 L468.24,879.93 L469.14,879.44 L470.04,878.95 L470.94,878.46 L471.83,877.95 L472.72,877.45 L473.61,876.94 L474.50,876.43 L475.38,875.92 L476.26,875.40 L477.13,874.88 L478.01,874.36 L478.88,873.84 L479.75,873.31 L480.62,872.78 L481.48,872.25 L482.35,871.71 L483.21,871.18 L484.07,870.64 L484.94,870.10 L485.80,869.56 L486.65,869.01 L487.51,868.47 L488.37,867.92 L489.23,867.37 L490.08,866.83 L490.94,866.28 L491.80,865.73 L492.65,865.17 L493.51,864.62 L494.37,864.07 L495.23,863.52 L496.08,862.97 L496.94,862.41 L497.80,861.86 L498.67,861.31 L499.53,860.76 L500.39,860.21 L501.26,859.65 L502.13,859.10 L503.00,858.55 L503.87,858.01 L504.74,857.46 L505.62,856.91 L506.50,856.37 L507.38,855.82 L508.26,855.28 L509.15,854.74 L510.04,854.20 L510.93,853.66 L511.83,853.13 L512.72,852.60 L513.62,852.07 L514.53,851.54 L515.43,851.01 L516.34,850.49 L517.25,849.97 L518.17,849.46 L519.08,848.94 L520.00,848.43 L520.92,847.93 L521.84,847.43 L522.77,846.93 L523.70,846.43 L524.63,845.94 L525.56,845.45 L526.49,844.97 L527.43,844.50 L528.37,844.02 L529.31,843.55 L530.25,843.09 L531.20,842.63 L532.15,842.18 L533.10,841.73 L534.05,841.29 L535.00,840.85 L535.96,840.42 L536.92,840.00 L537.87,839.58 L538.84,839.17 L539.80,838.76 L540.76,838.36 L541.73,837.97 L542.70,837.58 L543.67,837.20 L544.64,836.83 L545.61,836.46 L546.59,836.10 L547.57,835.75 L548.55,835.41 L549.53,835.07 L550.51,834.75 L551.49,834.43 L552.47,834.12 L553.46,833.81 L554.45,833.52 L555.44,833.23 L556.43,832.96 L557.42,832.69 L558.41,832.43 L559.40,832.18 L560.40,831.94 L561.39,831.70 L562.39,831.48 L563.39,831.27 L564.39,831.07 L565.39,830.88 L566.39,830.69 L567.40,830.52 L568.40,830.36 L569.40,830.21 L570.41,830.07 L571.42,829.94 L572.42,829.82 L573.43,829.71 L574.44,829.61 L575.45,829.52 L576.46,829.44 L577.47,829.37 L578.49,829.31 L579.50,829.26 L580.51,829.22 L581.53,829.19 L582.54,829.16 L583.56,829.15 L584.58,829.14 L585.59,829.14 L586.61,829.15 L587.63,829.16 L588.65,829.19 L589.67,829.22 L590.69,829.25 L591.71,829.30 L592.73,829.35 L593.75,829.41 L594.78,829.47 L595.80,829.54 L596.82,829.62 L597.85,829.70 L598.87,829.78 L599.90,829.88 L600.92,829.97 L601.95,830.08 L602.98,830.18 L604.00,830.30 L605.03,830.41 L606.06,830.53 L607.08,830.66 L608.11,830.78 L609.14,830.91 L610.17,831.05 L611.20,831.19 L612.23,831.33 L613.26,831.47 L614.29,831.62 L615.31,831.77 L616.34,831.92 L617.37,832.07 L618.40,832.23 L619.43,832.39 L620.47,832.54 L621.50,832.70 L622.53,832.87 L623.56,833.03 L624.59,833.19 L625.62,833.35 L626.65,833.52 L627.68,833.68 L628.71,833.84 L629.74,834.01 L630.77,834.17 L631.80,834.33 L632.83,834.49 L633.86,834.65 L634.89,834.81 L635.92,834.97 L636.95,835.13 L637.98,835.28 L639.01,835.43 L640.04,835.58 L641.07,835.73 L642.10,835.88 L643.13,836.02 L644.16,836.16 L645.18,836.30 L646.21,836.43 L647.24,836.56 L648.27,836.69 L649.29,836.81 L650.32,836.93 L651.34,837.04 L652.37,837.15 L653.39,837.26 L654.42,837.36 L655.44,837.46 L656.47,837.55 L657.49,837.63 L658.51,837.71 L659.54,837.79 L660.56,837.86 L661.58,837.92 L662.60,837.98 L663.62,838.03 L664.64,838.07 L665.66,838.11 L666.67,838.14 L667.69,838.16 L668.71,838.17 L669.72,838.18 L670.74,838.18 L671.75,838.17 L672.77,838.16 L673.78,838.13 L674.79,838.10 L675.81,838.06 L676.82,838.01 L677.83,837.95 L678.84,837.89 L679.84,837.81 L680.85,837.72 L681.86,837.62 L682.86,837.52 L683.87,837.40 L684.87,837.27 L685.87,837.14 L686.88,836.99 L687.88,836.83 L688.88,836.66 L689.88,836.48 L690.87,836.29 L691.87,836.08 L692.87,835.87 L693.86,835.64 L694.85,835.40 L695.85,835.15 L696.84,834.88 L697.83,834.61 L698.82,834.32 L699.80,834.02 L700.79,833.71 L701.78,833.39 L702.76,833.06 L703.74,832.72 L704.72,832.37 L705.70,832.01 L706.68,831.64 L707.66,831.27 L708.63,830.88 L709.60,830.49 L710.58,830.08 L711.55,829.67 L712.52,829.25 L713.48,828.83 L714.45,828.40 L715.41,827.96 L716.37,827.51 L717.33,827.06 L718.29,826.60 L719.25,826.14 L720.20,825.67 L721.16,825.20 L722.11,824.72 L723.05,824.24 L724.00,823.76 L724.95,823.27 L725.89,822.77 L726.83,822.28 L727.77,821.78 L728.70,821.28 L729.64,820.77 L730.57,820.26 L731.50,819.76 L732.43,819.24 L733.35,818.73 L734.27,818.22 L735.19,817.71 L736.11,817.19 L737.03,816.68 L737.94,816.17 L738.85,815.65 L739.76,815.14 L740.66,814.63 L741.56,814.12 L742.46,813.60 L743.36,813.09 L744.25,812.57 L745.13,812.06 L746.01,811.54 L746.89,811.01 L747.76,810.49 L748.62,809.96 L749.48,809.42 L750.33,808.88 L751.17,808.34 L752.01,807.79 L752.84,807.23 L753.66,806.67 L754.47,806.09 L755.27,805.52 L756.07,804.93 L756.85,804.33 L757.63,803.73 L758.39,803.11 L759.14,802.49 L759.89,801.85 L760.62,801.21 L761.34,800.55 L762.04,799.88 L762.74,799.20 L763.42,798.51 L764.09,797.80 L764.75,797.08 L765.39,796.34 L766.02,795.59 L766.63,794.82 L767.23,794.04 L767.81,793.24 L768.38,792.42 L768.93,791.59 L769.47,790.74 L769.99,789.88 L770.49,789.00 L770.98,788.10 L771.46,787.19 L771.92,786.26 L772.37,785.33 L772.80,784.37 L773.22,783.41 L773.62,782.44 L774.02,781.46 L774.40,780.46 L774.77,779.46 L775.12,778.45 L775.47,777.43 L775.80,776.41 L776.12,775.38 L776.43,774.34 L776.74,773.30 L777.03,772.25 L777.31,771.20 L777.58,770.15 L777.84,769.10 L778.09,768.04 L778.34,766.98 L778.57,765.92 L778.80,764.87 L779.02,763.81 L779.23,762.75 L779.44,761.70 L779.64,760.65 L779.83,759.61 L780.02,758.57 L780.20,757.53 L780.37,756.50 L780.54,755.48 L780.70,754.46 L780.86,753.45 L781.02,752.45 L781.17,751.46 L781.31,750.47 L781.46,749.49 L781.60,748.52 L781.73,747.54 L781.87,746.57 L782.00,745.60 L782.13,744.64 L782.26,743.67 L782.38,742.70 L782.51,741.72 L782.63,740.74 L782.76,739.76 L782.88,738.77 L783.01,737.77 L783.13,736.77 L783.25,735.76 L783.38,734.73 L783.51,733.70 L783.64,732.65 L783.77,731.59 L783.90,730.51 L784.04,729.42 L784.18,728.31 L784.32,727.19" stroke="#f00" stroke-width="1.75"/>
<path d="M452.19,839.80 L453.18,839.36 L454.16,838.90 L455.14,838.44 L456.10,837.97 L457.06,837.49 L458.01,837.01 L458.95,836.52 L459.88,836.01 L460.81,835.51 L461.73,834.99 L462.64,834.47 L463.55,833.94 L464.45,833.41 L465.34,832.87 L466.23,832.32 L467.12,831.77 L468.00,831.22 L468.87,830.66 L469.74,830.09 L470.61,829.52 L471.47,828.95 L472.33,828.37 L473.18,827.79 L474.03,827.21 L474.88,826.62 L475.73,826.03 L476.58,825.43 L477.42,824.84 L478.26,824.24 L479.10,823.64 L479.94,823.04 L480.78,822.44 L481.62,821.83 L482.46,821.23 L483.30,820.62 L484.14,820.02 L484.99,819.41 L485.83,818.80 L486.67,818.20 L487.52,817.59 L488.37,816.99 L489.22,816.39 L490.07,815.79 L490.93,815.19 L491.79,814.59 L492.65,813.99 L493.51,813.40 L494.39,812.81 L495.26,812.22 L496.14,811.63 L497.03,811.05 L497.91,810.47 L498.81,809.90 L499.71,809.33 L500.61,808.76 L501.52,808.20 L502.43,807.64 L503.34,807.09 L504.26,806.54 L505.18,806.00 L506.11,805.46 L507.04,804.94 L507.98,804.41 L508.91,803.90 L509.86,803.39 L510.80,802.88 L511.75,802.39 L512.70,801.90 L513.66,801.42 L514.61,800.95 L515.58,800.48 L516.54,800.03 L517.51,799.58 L518.48,799.14 L519.45,798.72 L520.43,798.30 L521.40,797.89 L522.39,797.49 L523.37,797.10 L524.35,796.72 L525.34,796.36 L526.33,796.00 L527.33,795.65 L528.32,795.32 L529.32,795.00 L530.32,794.69 L531.32,794.39 L532.32,794.10 L533.32,793.83 L534.33,793.57 L535.34,793.33 L536.34,793.09 L537.35,792.87 L538.37,792.67 L539.38,792.48 L540.39,792.30 L541.41,792.14 L542.42,791.99 L543.44,791.86 L544.46,791.74 L545.48,791.64 L546.50,791.56 L547.52,791.49 L548.54,791.44 L549.56,791.40 L550.58,791.38 L551.60,791.38 L552.62,791.38 L553.64,791.41 L554.67,791.45 L555.69,791.50 L556.71,791.57 L557.73,791.65 L558.75,791.74 L559.78,791.85 L560.80,791.97 L561.82,792.11 L562.84,792.26 L563.86,792.42 L564.88,792.59 L565.90,792.77 L566.92,792.97 L567.94,793.18 L568.95,793.40 L569.97,793.63 L570.98,793.87 L572.00,794.12 L573.01,794.39 L574.02,794.66 L575.03,794.95 L576.04,795.24 L577.05,795.54 L578.06,795.86 L579.06,796.18 L580.06,796.51 L581.07,796.85 L582.07,797.20 L583.06,797.56 L584.06,797.92 L585.05,798.29 L586.05,798.67 L587.04,799.06 L588.02,799.46 L589.01,799.86 L589.99,800.27 L590.98,800.68 L591.95,801.10 L592.93,801.53 L593.90,801.97 L594.87,802.40 L595.84,802.85 L596.81,803.30 L597.77,803.75 L598.73,804.21 L599.69,804.68 L600.64,805.14 L601.59,805.62 L602.54,806.09 L603.49,806.57 L604.43,807.06 L605.37,807.54 L606.31,808.03 L607.25,808.52 L608.18,809.02 L609.12,809.51 L610.05,810.01 L610.98,810.51 L611.91,811.01 L612.84,811.52 L613.76,812.02 L614.69,812.53 L615.62,813.03 L616.54,813.54 L617.46,814.05 L618.39,814.55 L619.31,815.06 L620.23,815.57 L621.16,816.07 L622.08,816.58 L623.00,817.08 L623.93,817.58 L624.85,818.08 L625.78,818.58 L626.70,819.08 L627.63,819.57 L628.56,820.06 L629.49,820.55 L630.42,821.04 L631.35,821.52 L632.28,822.00 L633.22,822.48 L634.16,822.95 L635.10,823.42 L636.04,823.88 L636.98,824.34 L637.93,824.79 L638.87,825.24 L639.83,825.69 L640.78,826.13 L641.74,826.56 L642.70,826.99 L643.66,827.41 L644.62,827.83 L645.59,828.23 L646.56,828.63 L647.54,829.03 L648.52,829.41 L649.50,829.79 L650.48,830.16 L651.46,830.52 L652.45,830.87 L653.44,831.21 L654.43,831.54 L655.42,831.86 L656.42,832.17 L657.42,832.47 L658.42,832.76 L659.42,833.04 L660.42,833.30 L661.43,833.56 L662.43,833.80 L663.44,834.02 L664.45,834.24 L665.46,834.44 L666.48,834.62 L667.49,834.79 L668.50,834.95 L669.52,835.09 L670.54,835.22 L671.56,835.33 L672.58,835.43 L673.60,835.51 L674.62,835.57 L675.64,835.62 L676.66,835.65 L677.69,835.67 L678.71,835.67 L679.73,835.66 L680.76,835.63 L681.78,835.59 L682.81,835.54 L683.83,835.47 L684.86,835.39 L685.89,835.29 L686.91,835.19 L687.94,835.07 L688.96,834.93 L689.99,834.79 L691.01,834.63 L692.03,834.47 L693.06,834.29 L694.08,834.10 L695.10,833.89 L696.13,833.68 L697.15,833.46 L698.17,833.23 L699.19,832.98 L700.20,832.73 L701.22,832.47 L702.24,832.20 L703.25,831.91 L704.27,831.62 L705.28,831.32 L706.29,831.01 L707.30,830.69 L708.31,830.36 L709.31,830.02 L710.32,829.68 L711.32,829.32 L712.32,828.96 L713.32,828.59 L714.32,828.21 L715.31,827.82 L716.31,827.42 L717.30,827.02 L718.29,826.61 L719.27,826.19 L720.26,825.77 L721.24,825.34 L722.22,824.90 L723.19,824.45 L724.16,824.00 L725.14,823.54 L726.10,823.07 L727.07,822.60 L728.03,822.12 L728.99,821.64 L729.94,821.15 L730.90,820.65 L731.85,820.15 L732.79,819.65 L733.73,819.14 L734.67,818.62 L735.61,818.10 L736.54,817.57 L737.47,817.04 L738.39,816.50 L739.31,815.96 L740.23,815.42 L741.14,814.87 L742.05,814.32 L742.96,813.76 L743.86,813.20 L744.75,812.63 L745.64,812.07 L746.53,811.50 L747.41,810.92 L748.29,810.34 L749.16,809.76 L750.03,809.17 L750.89,808.58 L751.74,807.99 L752.59,807.38 L753.43,806.77 L754.26,806.16 L755.08,805.54 L755.89,804.91 L756.69,804.27 L757.48,803.63 L758.27,802.98 L759.04,802.32 L759.80,801.65 L760.55,800.97 L761.29,800.28 L762.01,799.58 L762.72,798.88 L763.42,798.16 L764.11,797.43 L764.78,796.69 L765.44,795.93 L766.08,795.17 L766.70,794.39 L767.31,793.60 L767.91,792.80 L768.49,791.98 L769.05,791.15 L769.59,790.31 L770.12,789.45 L770.63,788.58 L771.12,787.69 L771.60,786.80 L772.06,785.89 L772.51,784.97 L772.94,784.04 L773.36,783.10 L773.76,782.15 L774.15,781.19 L774.53,780.23 L774.89,779.25 L775.25,778.26 L775.58,777.27 L775.91,776.27 L776.23,775.26 L776.53,774.25 L776.82,773.23 L777.10,772.20 L777.38,771.17 L777.64,770.13 L777.89,769.09 L778.13,768.05 L778.37,767.00 L778.59,765.94 L778.81,764.89 L779.02,763.83 L779.22,762.77 L779.41,761.71 L779.60,760.64 L779.78,759.58 L779.96,758.51 L780.13,757.44 L780.30,756.37 L780.46,755.31 L780.62,754.24 L780.77,753.17 L780.92,752.10 L781.07,751.03 L781.21,749.97 L781.35,748.91 L781.49,747.84 L781.63,746.78 L781.77,745.73 L781.91,744.67 L782.04,743.62 L782.18,742.58 L782.32,741.53 L782.46,740.49 L782.59,739.46 L782.74,738.43 L782.88,737.40 L783.02,736.38 L783.17,735.37 L783.32,734.36 L783.48,733.36 L783.64,732.37 L783.80,731.38 L783.97,730.40 L784.14,729.43 L784.32,728.46 L784.51,727.51" stroke="rgb(0,139,0)" stroke-width="3.5" stroke-linecap="round" stroke-dasharray="0 7.92" stroke-dashoffset="-3.0"/>
</g>
<text x="224.8" y="616.6" font-size="28.5">xP</text>
<text x="255.1" y="602.4" font-size="19.5">T</text>
<text x="253.3" y="622.2" font-size="19.5">qq</text>
<text x="275.0" y="616.6" font-size="29">(x)</text>
<text x="621.0" y="616.6" font-size="28.5">xP</text>
<text x="651.3" y="602.4" font-size="19.5">T</text>
<text x="649.5" y="622.2" font-size="19.5">qg</text>
<text x="671.2" y="616.6" font-size="29">(x)</text>
<path d="M225.6,688.9 H264.5" stroke="#000" stroke-width="2.8" stroke-linecap="round" stroke-dasharray="0 12.75" fill="none"/>
<path d="M224.1,722.5 H264.0" stroke="#000" stroke-width="1.5" stroke-dasharray="7.8 8.1" fill="none"/><path d="M224.1,722.5 H264.0" stroke="#000" stroke-width="2.6" stroke-linecap="round" stroke-dasharray="0 15.9" stroke-dashoffset="-11.75" fill="none"/>
<text x="279.3" y="695.5" font-size="21.5">NLO</text>
<text x="279.3" y="729.5" font-size="21.5">NNLO</text>
<text transform="translate(199.2,958.9) scale(1.12,1)" font-size="27" style="stroke-width:0">α</text>
<text x="214.2" y="966.4" font-size="17">S</text>
<text x="229.0" y="960.2" font-size="24">=</text>
<text x="248.5" y="958.9" font-size="24">0.12,</text>
<text x="308.3" y="958.9" font-size="24">N</text>
<text x="325.2" y="966.4" font-size="17">f</text>
<text x="336.0" y="960.2" font-size="24">=</text>
<text x="355.5" y="958.9" font-size="24">5</text>
<text x="645.5" y="673.7" font-size="21.5">NNLO</text>
<path d="M620.0,707.6 H660.2" stroke="#00f" stroke-width="1.75" stroke-dasharray="8.05 7.9" fill="none"/>
<path d="M620.0,741.1 H660.6" stroke="#f00" stroke-width="1.75" fill="none"/>
<path d="M622.8,775.0 H660" stroke="rgb(0,139,0)" stroke-width="3.5" stroke-linecap="round" stroke-dasharray="0 9.13" fill="none"/>
<text x="675.3" y="714.7" font-size="21.5">+</text>
<text x="675.3" y="748.1" font-size="21.5">+</text>
<text x="675.3" y="781.6" font-size="21.5">+</text>
<text x="692.9" y="712.8" font-size="21.5">NLL</text>
<text x="692.9" y="746.2" font-size="21.5">NNLL</text>
<text x="692.9" y="779.7" font-size="21.5">N</text>
<text x="708.2" y="769.4" font-size="15.2">3</text>
<text x="715.6" y="779.7" font-size="21.5">LL</text>
</svg>
</body></html>
